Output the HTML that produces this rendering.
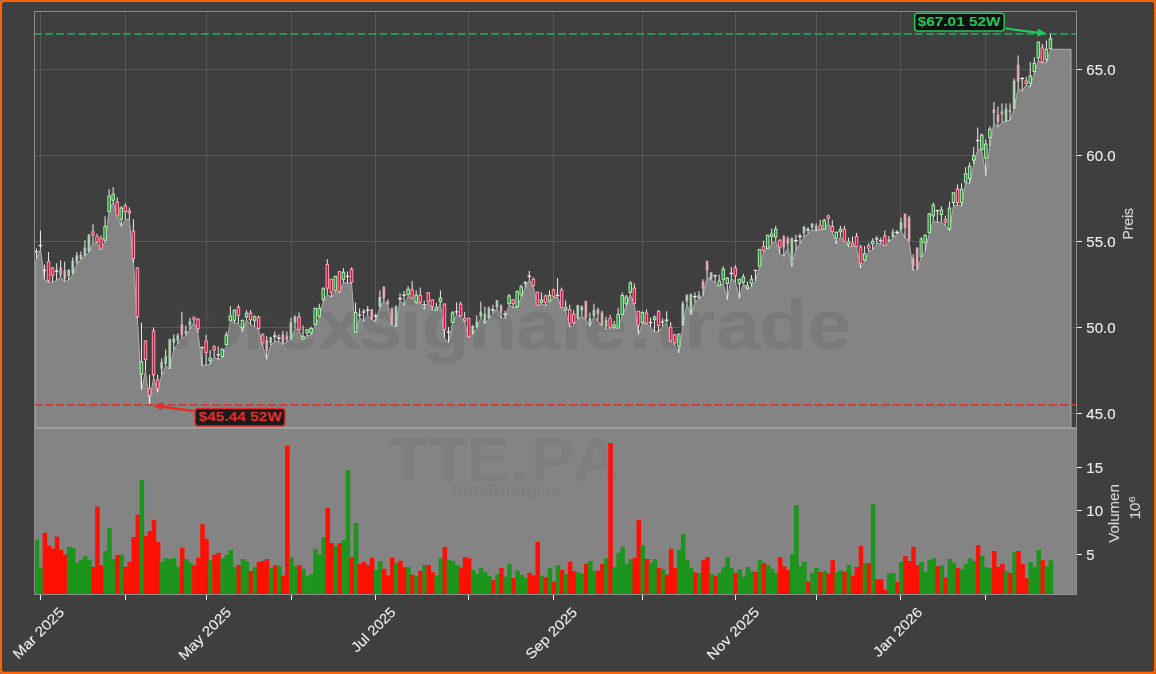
<!DOCTYPE html><html><head><meta charset="utf-8"><title>TTE.PA</title>
<style>html,body{margin:0;padding:0;background:#404040;overflow:hidden}svg{display:block}text{font-family:"Liberation Sans",sans-serif}</style></head><body>
<svg width="1156" height="674" viewBox="0 0 1156 674"><g opacity="0.999">
<rect x="0" y="0" width="1156" height="674" fill="#70757a"/>
<rect x="0" y="0" width="1156" height="674" rx="3.2" ry="3.2" fill="#ff6405"/>
<rect x="2" y="2" width="1152" height="669.8" rx="2.2" ry="2.2" fill="#404040"/>
<g stroke="#585858" stroke-width="1" shape-rendering="crispEdges">
<line x1="34.5" y1="69.2" x2="1076.5" y2="69.2"/>
<line x1="34.5" y1="155.2" x2="1076.5" y2="155.2"/>
<line x1="34.5" y1="241.2" x2="1076.5" y2="241.2"/>
<line x1="34.5" y1="327.2" x2="1076.5" y2="327.2"/>
<line x1="34.5" y1="413.2" x2="1076.5" y2="413.2"/>
<line x1="40.4" y1="11.5" x2="40.4" y2="428.0"/>
<line x1="125.2" y1="11.5" x2="125.2" y2="428.0"/>
<line x1="206.5" y1="11.5" x2="206.5" y2="428.0"/>
<line x1="291.4" y1="11.5" x2="291.4" y2="428.0"/>
<line x1="375.4" y1="11.5" x2="375.4" y2="428.0"/>
<line x1="468.3" y1="11.5" x2="468.3" y2="428.0"/>
<line x1="553.5" y1="11.5" x2="553.5" y2="428.0"/>
<line x1="642.2" y1="11.5" x2="642.2" y2="428.0"/>
<line x1="735.1" y1="11.5" x2="735.1" y2="428.0"/>
<line x1="816.1" y1="11.5" x2="816.1" y2="428.0"/>
<line x1="900.4" y1="11.5" x2="900.4" y2="428.0"/>
<line x1="985.2" y1="11.5" x2="985.2" y2="428.0"/>
</g>
<polygon points="35.8,428.0 35.8,260.6 36.4,258.6 40.5,249.1 44.5,279.4 48.5,282.3 52.6,282.3 56.6,280.5 60.7,277.0 64.7,281.7 68.7,280.0 72.8,274.0 76.8,264.5 80.9,259.2 84.9,256.2 88.9,252.1 93.0,243.2 97.0,243.2 101.1,249.7 105.1,241.2 109.1,211.6 113.2,201.5 117.2,215.7 121.3,226.4 125.3,219.3 129.3,219.3 133.4,262.7 137.4,318.5 141.5,390.1 145.5,370.5 149.5,404.4 153.6,377.0 157.6,392.5 161.7,374.7 165.7,366.0 169.7,369.0 173.8,349.4 177.8,344.0 181.9,338.1 185.9,335.7 189.9,329.2 194.0,322.6 198.0,332.7 202.1,365.4 206.1,365.4 210.1,364.2 214.2,357.1 218.2,359.5 222.3,357.7 226.3,345.2 230.3,320.9 234.4,323.2 238.4,323.2 242.5,331.6 246.5,319.7 250.5,324.5 254.6,326.8 258.6,329.8 262.7,345.7 266.7,359.4 270.7,345.1 274.8,341.6 278.8,341.6 282.9,344.5 286.9,342.1 290.9,339.8 295.0,328.5 299.0,330.3 303.1,339.2 307.1,336.2 311.1,334.4 315.2,325.6 319.2,317.3 323.3,301.3 327.3,294.8 331.3,297.1 335.4,291.8 339.4,293.0 343.5,282.3 347.5,283.3 351.5,283.3 355.6,332.8 359.6,317.3 363.7,321.5 367.7,315.0 371.7,319.7 375.8,321.3 379.8,307.6 383.9,300.5 387.9,304.7 391.9,324.9 396.0,326.6 400.0,300.5 404.1,305.3 408.1,296.4 412.1,298.7 416.2,303.3 420.2,302.9 424.3,309.4 428.3,302.5 432.3,310.0 436.4,310.4 440.4,302.9 444.5,337.9 448.5,342.7 452.5,323.1 456.6,314.8 460.6,316.6 464.7,322.5 468.7,337.3 472.7,334.4 476.8,327.8 480.8,317.7 484.9,323.7 488.9,318.9 492.9,313.6 497.0,308.9 501.0,317.8 505.1,318.4 509.1,304.8 513.1,307.7 517.2,307.5 521.2,297.1 525.3,287.6 529.3,279.8 533.3,286.4 537.4,305.6 541.4,303.6 545.5,306.0 549.5,301.8 553.5,297.6 557.6,297.6 561.6,308.0 565.7,310.7 569.7,327.3 573.7,324.4 577.8,319.6 581.8,316.1 585.9,319.6 589.9,326.5 593.9,316.3 598.0,320.8 602.0,326.1 606.1,329.7 610.1,328.5 614.1,329.3 618.2,328.2 622.2,315.5 626.3,306.1 630.3,294.2 634.3,304.3 638.4,334.4 642.4,323.7 646.5,323.7 650.5,326.7 654.5,331.5 658.6,331.5 662.6,326.7 666.7,322.6 670.7,342.1 674.7,344.9 678.8,352.8 682.8,326.1 686.9,304.3 690.9,314.7 694.9,302.3 699.0,298.7 703.0,295.4 707.1,276.7 711.1,279.7 715.1,282.9 719.2,286.1 723.2,283.3 727.3,299.5 731.3,277.8 735.3,282.1 739.4,298.3 743.4,283.3 747.5,289.7 751.5,286.9 755.5,281.0 759.6,266.7 763.6,251.3 767.7,248.9 771.7,243.9 775.7,240.6 779.8,253.9 783.8,256.3 787.9,247.7 791.9,266.5 795.9,249.2 800.0,243.6 804.0,236.8 808.1,233.5 812.1,230.2 816.1,230.9 820.2,229.7 824.2,229.3 828.3,222.8 832.3,232.5 836.3,243.9 840.4,236.8 844.4,241.6 848.5,246.8 852.5,246.0 856.5,246.8 860.6,268.2 864.6,261.0 868.7,251.5 872.7,249.8 876.7,243.4 880.8,243.4 884.8,245.8 888.9,241.9 892.9,237.7 896.9,234.2 901.0,230.4 905.0,238.0 909.1,241.1 913.1,270.4 917.1,270.0 921.2,257.7 925.2,251.0 929.3,233.2 933.3,220.9 937.3,222.5 941.4,222.1 945.4,225.6 949.5,230.9 953.5,205.4 957.5,205.1 961.6,206.3 965.6,182.9 969.7,183.6 973.7,164.3 977.7,149.7 981.8,150.4 985.8,175.5 989.9,146.1 993.9,122.4 997.9,126.9 1002.0,122.4 1006.0,121.2 1010.1,120.3 1014.1,109.1 1018.1,88.0 1022.2,91.3 1026.2,84.7 1030.3,87.0 1034.3,72.9 1038.3,60.9 1042.4,63.1 1046.4,62.6 1050.5,49.3 1071.0,49.3 1071.0,428.0" fill="#858585" stroke="#b0b0b0" stroke-width="1" stroke-linejoin="round"/>
<rect x="34.5" y="428.0" width="1042.0" height="166.5" fill="#858585"/>
<g fill="#505050" font-weight="bold">
<text transform="translate(169.05,348.5) scale(1.134,1)" font-size="70.0" fill-opacity="0.17">f</text>
<text transform="translate(194.82,348.5) scale(1.134,1)" font-size="70.0" fill-opacity="0.17">o</text>
<text transform="translate(242.33,348.5) scale(1.134,1)" font-size="70.0" fill-opacity="0.17">r</text>
<text transform="translate(274.11,348.5) scale(1.134,1)" font-size="70.0" fill-opacity="0.17">e</text>
<text transform="translate(317.51,348.5) scale(1.134,1)" font-size="70.0" fill-opacity="0.17">x</text>
<text transform="translate(358.18,348.5) scale(1.134,1)" font-size="70.0" fill-opacity="0.17">s</text>
<text transform="translate(399.98,348.5) scale(1.134,1)" font-size="70.0" fill-opacity="0.17">i</text>
<text transform="translate(421.50,348.5) scale(1.134,1)" font-size="70.0" fill-opacity="0.17">g</text>
<text transform="translate(468.34,348.5) scale(1.134,1)" font-size="70.0" fill-opacity="0.17">n</text>
<text transform="translate(516.01,348.5) scale(1.134,1)" font-size="70.0" fill-opacity="0.17">a</text>
<text transform="translate(560.44,348.5) scale(1.134,1)" font-size="70.0" fill-opacity="0.17">l</text>
<text transform="translate(582.89,348.5) scale(1.134,1)" font-size="70.0" fill-opacity="0.17">e</text>
<text transform="translate(628.63,348.5) scale(1.134,1)" font-size="70.0" fill-opacity="0.17">.</text>
<text transform="translate(654.59,348.5) scale(1.134,1)" font-size="70.0" fill-opacity="0.17">t</text>
<text transform="translate(684.22,348.5) scale(1.134,1)" font-size="70.0" fill-opacity="0.17">r</text>
<text transform="translate(715.90,348.5) scale(1.134,1)" font-size="70.0" fill-opacity="0.17">a</text>
<text transform="translate(759.34,348.5) scale(1.134,1)" font-size="70.0" fill-opacity="0.17">d</text>
<text transform="translate(807.25,348.5) scale(1.134,1)" font-size="70.0" fill-opacity="0.17">e</text>
<text transform="translate(388.73,481.3) scale(1.020,1)" font-size="63.4" fill-opacity="0.10">T</text>
<text transform="translate(428.69,481.3) scale(1.020,1)" font-size="63.4" fill-opacity="0.10">T</text>
<text transform="translate(466.88,481.3) scale(1.020,1)" font-size="63.4" fill-opacity="0.10">E</text>
<text transform="translate(510.60,481.3) scale(1.020,1)" font-size="63.4" fill-opacity="0.10">.</text>
<text transform="translate(530.63,481.3) scale(1.020,1)" font-size="63.4" fill-opacity="0.10">P</text>
<text transform="translate(573.01,481.3) scale(1.020,1)" font-size="63.4" fill-opacity="0.10">A</text>
</g>
<text x="448.8" y="495.8" font-size="16.6" fill="#505050" fill-opacity="0.15" textLength="111.6" lengthAdjust="spacingAndGlyphs">TotalEnergies</text>
<rect x="34.55" y="539.6" width="4.54" height="54.9" fill="#1c961c"/>
<rect x="38.59" y="567.5" width="4.54" height="27.0" fill="#1c961c"/>
<rect x="42.63" y="532.8" width="4.54" height="61.7" fill="#ff1205"/>
<rect x="46.67" y="545.7" width="4.54" height="48.8" fill="#ff1205"/>
<rect x="50.71" y="548.6" width="4.54" height="45.9" fill="#ff1205"/>
<rect x="54.75" y="536.7" width="4.54" height="57.8" fill="#ff1205"/>
<rect x="58.79" y="549.8" width="4.54" height="44.7" fill="#ff1205"/>
<rect x="62.83" y="554.6" width="4.54" height="39.9" fill="#ff1205"/>
<rect x="66.87" y="546.9" width="4.54" height="47.6" fill="#1c961c"/>
<rect x="70.91" y="548.1" width="4.54" height="46.4" fill="#1c961c"/>
<rect x="74.95" y="562.7" width="4.54" height="31.8" fill="#1c961c"/>
<rect x="78.99" y="559.8" width="4.54" height="34.7" fill="#1c961c"/>
<rect x="83.03" y="555.9" width="4.54" height="38.6" fill="#1c961c"/>
<rect x="87.07" y="559.8" width="4.54" height="34.7" fill="#1c961c"/>
<rect x="91.11" y="566.8" width="4.54" height="27.7" fill="#ff1205"/>
<rect x="95.15" y="506.7" width="4.54" height="87.8" fill="#ff1205"/>
<rect x="99.19" y="565.1" width="4.54" height="29.4" fill="#ff1205"/>
<rect x="103.23" y="551.0" width="4.54" height="43.5" fill="#1c961c"/>
<rect x="107.27" y="527.9" width="4.54" height="66.6" fill="#1c961c"/>
<rect x="111.31" y="559.0" width="4.54" height="35.5" fill="#1c961c"/>
<rect x="115.35" y="554.9" width="4.54" height="39.6" fill="#ff1205"/>
<rect x="119.39" y="554.9" width="4.54" height="39.6" fill="#1c961c"/>
<rect x="123.43" y="566.8" width="4.54" height="27.7" fill="#ff1205"/>
<rect x="127.47" y="561.9" width="4.54" height="32.6" fill="#ff1205"/>
<rect x="131.51" y="537.1" width="4.54" height="57.4" fill="#ff1205"/>
<rect x="135.55" y="514.8" width="4.54" height="79.7" fill="#ff1205"/>
<rect x="139.59" y="480.0" width="4.54" height="114.5" fill="#1c961c"/>
<rect x="143.63" y="535.9" width="4.54" height="58.6" fill="#ff1205"/>
<rect x="147.67" y="531.1" width="4.54" height="63.4" fill="#ff1205"/>
<rect x="151.71" y="520.1" width="4.54" height="74.4" fill="#ff1205"/>
<rect x="155.75" y="542.0" width="4.54" height="52.5" fill="#ff1205"/>
<rect x="159.79" y="561.9" width="4.54" height="32.6" fill="#1c961c"/>
<rect x="163.83" y="558.1" width="4.54" height="36.4" fill="#1c961c"/>
<rect x="167.87" y="559.0" width="4.54" height="35.5" fill="#1c961c"/>
<rect x="171.91" y="558.1" width="4.54" height="36.4" fill="#1c961c"/>
<rect x="175.95" y="566.8" width="4.54" height="27.7" fill="#1c961c"/>
<rect x="179.99" y="547.6" width="4.54" height="46.9" fill="#ff1205"/>
<rect x="184.03" y="559.0" width="4.54" height="35.5" fill="#1c961c"/>
<rect x="188.07" y="562.7" width="4.54" height="31.8" fill="#1c961c"/>
<rect x="192.11" y="565.6" width="4.54" height="28.9" fill="#ff1205"/>
<rect x="196.15" y="557.8" width="4.54" height="36.7" fill="#ff1205"/>
<rect x="200.19" y="524.3" width="4.54" height="70.2" fill="#ff1205"/>
<rect x="204.23" y="539.1" width="4.54" height="55.4" fill="#ff1205"/>
<rect x="208.27" y="560.2" width="4.54" height="34.3" fill="#1c961c"/>
<rect x="212.31" y="554.9" width="4.54" height="39.6" fill="#ff1205"/>
<rect x="216.35" y="552.9" width="4.54" height="41.6" fill="#ff1205"/>
<rect x="220.39" y="558.3" width="4.54" height="36.2" fill="#1c961c"/>
<rect x="224.43" y="554.9" width="4.54" height="39.6" fill="#1c961c"/>
<rect x="228.47" y="550.0" width="4.54" height="44.5" fill="#1c961c"/>
<rect x="232.51" y="567.1" width="4.54" height="27.4" fill="#1c961c"/>
<rect x="236.55" y="565.1" width="4.54" height="29.4" fill="#ff1205"/>
<rect x="240.59" y="559.0" width="4.54" height="35.5" fill="#1c961c"/>
<rect x="244.63" y="561.0" width="4.54" height="33.5" fill="#1c961c"/>
<rect x="248.67" y="571.2" width="4.54" height="23.3" fill="#ff1205"/>
<rect x="252.71" y="567.1" width="4.54" height="27.4" fill="#1c961c"/>
<rect x="256.75" y="561.9" width="4.54" height="32.6" fill="#ff1205"/>
<rect x="260.79" y="561.0" width="4.54" height="33.5" fill="#ff1205"/>
<rect x="264.83" y="559.0" width="4.54" height="35.5" fill="#ff1205"/>
<rect x="268.87" y="568.0" width="4.54" height="26.5" fill="#1c961c"/>
<rect x="272.91" y="565.1" width="4.54" height="29.4" fill="#ff1205"/>
<rect x="276.95" y="566.3" width="4.54" height="28.2" fill="#1c961c"/>
<rect x="280.99" y="575.6" width="4.54" height="18.9" fill="#ff1205"/>
<rect x="285.03" y="445.9" width="4.54" height="148.6" fill="#ff1205"/>
<rect x="289.07" y="557.1" width="4.54" height="37.4" fill="#1c961c"/>
<rect x="293.11" y="566.3" width="4.54" height="28.2" fill="#1c961c"/>
<rect x="297.15" y="565.1" width="4.54" height="29.4" fill="#ff1205"/>
<rect x="301.19" y="568.8" width="4.54" height="25.7" fill="#1c961c"/>
<rect x="305.23" y="576.1" width="4.54" height="18.4" fill="#1c961c"/>
<rect x="309.27" y="574.1" width="4.54" height="20.4" fill="#1c961c"/>
<rect x="313.31" y="548.8" width="4.54" height="45.7" fill="#1c961c"/>
<rect x="317.35" y="554.6" width="4.54" height="39.9" fill="#1c961c"/>
<rect x="321.39" y="537.1" width="4.54" height="57.4" fill="#1c961c"/>
<rect x="325.43" y="508.0" width="4.54" height="86.5" fill="#ff1205"/>
<rect x="329.47" y="543.2" width="4.54" height="51.3" fill="#ff1205"/>
<rect x="333.51" y="546.1" width="4.54" height="48.4" fill="#1c961c"/>
<rect x="337.55" y="543.2" width="4.54" height="51.3" fill="#ff1205"/>
<rect x="341.59" y="540.1" width="4.54" height="54.4" fill="#1c961c"/>
<rect x="345.63" y="470.3" width="4.54" height="124.2" fill="#1c961c"/>
<rect x="349.67" y="557.1" width="4.54" height="37.4" fill="#ff1205"/>
<rect x="353.71" y="523.0" width="4.54" height="71.5" fill="#1c961c"/>
<rect x="357.75" y="563.9" width="4.54" height="30.6" fill="#ff1205"/>
<rect x="361.79" y="561.9" width="4.54" height="32.6" fill="#ff1205"/>
<rect x="365.83" y="565.1" width="4.54" height="29.4" fill="#ff1205"/>
<rect x="369.87" y="557.8" width="4.54" height="36.7" fill="#ff1205"/>
<rect x="373.91" y="570.0" width="4.54" height="24.5" fill="#1c961c"/>
<rect x="377.95" y="561.0" width="4.54" height="33.5" fill="#1c961c"/>
<rect x="381.99" y="568.8" width="4.54" height="25.7" fill="#ff1205"/>
<rect x="386.03" y="575.6" width="4.54" height="18.9" fill="#ff1205"/>
<rect x="390.07" y="557.8" width="4.54" height="36.7" fill="#ff1205"/>
<rect x="394.11" y="562.7" width="4.54" height="31.8" fill="#1c961c"/>
<rect x="398.15" y="560.7" width="4.54" height="33.8" fill="#ff1205"/>
<rect x="402.19" y="567.1" width="4.54" height="27.4" fill="#ff1205"/>
<rect x="406.23" y="567.1" width="4.54" height="27.4" fill="#1c961c"/>
<rect x="410.27" y="574.8" width="4.54" height="19.7" fill="#ff1205"/>
<rect x="414.31" y="576.1" width="4.54" height="18.4" fill="#1c961c"/>
<rect x="418.35" y="570.7" width="4.54" height="23.8" fill="#ff1205"/>
<rect x="422.39" y="565.1" width="4.54" height="29.4" fill="#1c961c"/>
<rect x="426.43" y="565.1" width="4.54" height="29.4" fill="#ff1205"/>
<rect x="430.47" y="572.4" width="4.54" height="22.1" fill="#ff1205"/>
<rect x="434.51" y="575.3" width="4.54" height="19.2" fill="#1c961c"/>
<rect x="438.55" y="558.3" width="4.54" height="36.2" fill="#1c961c"/>
<rect x="442.59" y="546.9" width="4.54" height="47.6" fill="#ff1205"/>
<rect x="446.63" y="559.8" width="4.54" height="34.7" fill="#1c961c"/>
<rect x="450.67" y="561.0" width="4.54" height="33.5" fill="#1c961c"/>
<rect x="454.71" y="565.1" width="4.54" height="29.4" fill="#1c961c"/>
<rect x="458.75" y="567.5" width="4.54" height="27.0" fill="#ff1205"/>
<rect x="462.79" y="557.1" width="4.54" height="37.4" fill="#ff1205"/>
<rect x="466.83" y="558.3" width="4.54" height="36.2" fill="#ff1205"/>
<rect x="470.87" y="570.0" width="4.54" height="24.5" fill="#1c961c"/>
<rect x="474.91" y="573.6" width="4.54" height="20.9" fill="#1c961c"/>
<rect x="478.95" y="568.0" width="4.54" height="26.5" fill="#1c961c"/>
<rect x="482.99" y="572.4" width="4.54" height="22.1" fill="#1c961c"/>
<rect x="487.03" y="576.1" width="4.54" height="18.4" fill="#1c961c"/>
<rect x="491.07" y="580.2" width="4.54" height="14.3" fill="#ff1205"/>
<rect x="495.11" y="574.1" width="4.54" height="20.4" fill="#1c961c"/>
<rect x="499.15" y="568.0" width="4.54" height="26.5" fill="#ff1205"/>
<rect x="503.19" y="576.8" width="4.54" height="17.7" fill="#1c961c"/>
<rect x="507.23" y="563.9" width="4.54" height="30.6" fill="#1c961c"/>
<rect x="511.27" y="578.0" width="4.54" height="16.5" fill="#ff1205"/>
<rect x="515.31" y="570.7" width="4.54" height="23.8" fill="#1c961c"/>
<rect x="519.35" y="574.8" width="4.54" height="19.7" fill="#1c961c"/>
<rect x="523.39" y="578.0" width="4.54" height="16.5" fill="#1c961c"/>
<rect x="527.43" y="572.9" width="4.54" height="21.6" fill="#ff1205"/>
<rect x="531.47" y="575.3" width="4.54" height="19.2" fill="#ff1205"/>
<rect x="535.51" y="542.0" width="4.54" height="52.5" fill="#ff1205"/>
<rect x="539.55" y="575.6" width="4.54" height="18.9" fill="#1c961c"/>
<rect x="543.59" y="577.3" width="4.54" height="17.2" fill="#ff1205"/>
<rect x="547.63" y="568.0" width="4.54" height="26.5" fill="#1c961c"/>
<rect x="551.67" y="581.6" width="4.54" height="12.9" fill="#ff1205"/>
<rect x="555.71" y="565.1" width="4.54" height="29.4" fill="#1c961c"/>
<rect x="559.75" y="570.0" width="4.54" height="24.5" fill="#ff1205"/>
<rect x="563.79" y="574.1" width="4.54" height="20.4" fill="#1c961c"/>
<rect x="567.83" y="561.9" width="4.54" height="32.6" fill="#ff1205"/>
<rect x="571.87" y="571.2" width="4.54" height="23.3" fill="#ff1205"/>
<rect x="575.91" y="572.4" width="4.54" height="22.1" fill="#1c961c"/>
<rect x="579.95" y="573.6" width="4.54" height="20.9" fill="#1c961c"/>
<rect x="583.99" y="563.9" width="4.54" height="30.6" fill="#ff1205"/>
<rect x="588.03" y="561.0" width="4.54" height="33.5" fill="#1c961c"/>
<rect x="592.07" y="571.2" width="4.54" height="23.3" fill="#1c961c"/>
<rect x="596.11" y="570.7" width="4.54" height="23.8" fill="#ff1205"/>
<rect x="600.15" y="563.9" width="4.54" height="30.6" fill="#ff1205"/>
<rect x="604.19" y="558.3" width="4.54" height="36.2" fill="#1c961c"/>
<rect x="608.23" y="443.0" width="4.54" height="151.5" fill="#ff1205"/>
<rect x="612.27" y="567.1" width="4.54" height="27.4" fill="#1c961c"/>
<rect x="616.31" y="552.9" width="4.54" height="41.6" fill="#1c961c"/>
<rect x="620.35" y="546.9" width="4.54" height="47.6" fill="#1c961c"/>
<rect x="624.39" y="563.9" width="4.54" height="30.6" fill="#1c961c"/>
<rect x="628.43" y="559.0" width="4.54" height="35.5" fill="#1c961c"/>
<rect x="632.47" y="557.8" width="4.54" height="36.7" fill="#ff1205"/>
<rect x="636.51" y="520.1" width="4.54" height="74.4" fill="#ff1205"/>
<rect x="640.55" y="545.2" width="4.54" height="49.3" fill="#1c961c"/>
<rect x="644.59" y="559.0" width="4.54" height="35.5" fill="#ff1205"/>
<rect x="648.63" y="562.7" width="4.54" height="31.8" fill="#1c961c"/>
<rect x="652.67" y="559.0" width="4.54" height="35.5" fill="#1c961c"/>
<rect x="656.71" y="568.0" width="4.54" height="26.5" fill="#ff1205"/>
<rect x="660.75" y="569.2" width="4.54" height="25.3" fill="#1c961c"/>
<rect x="664.79" y="574.8" width="4.54" height="19.7" fill="#ff1205"/>
<rect x="668.83" y="548.8" width="4.54" height="45.7" fill="#ff1205"/>
<rect x="672.87" y="568.0" width="4.54" height="26.5" fill="#ff1205"/>
<rect x="676.91" y="549.8" width="4.54" height="44.7" fill="#1c961c"/>
<rect x="680.95" y="534.0" width="4.54" height="60.5" fill="#1c961c"/>
<rect x="684.99" y="560.2" width="4.54" height="34.3" fill="#1c961c"/>
<rect x="689.03" y="568.0" width="4.54" height="26.5" fill="#1c961c"/>
<rect x="693.07" y="572.4" width="4.54" height="22.1" fill="#ff1205"/>
<rect x="697.11" y="573.1" width="4.54" height="21.4" fill="#1c961c"/>
<rect x="701.15" y="560.2" width="4.54" height="34.3" fill="#ff1205"/>
<rect x="705.19" y="557.1" width="4.54" height="37.4" fill="#ff1205"/>
<rect x="709.23" y="574.1" width="4.54" height="20.4" fill="#1c961c"/>
<rect x="713.27" y="576.1" width="4.54" height="18.4" fill="#ff1205"/>
<rect x="717.31" y="572.9" width="4.54" height="21.6" fill="#1c961c"/>
<rect x="721.35" y="567.1" width="4.54" height="27.4" fill="#1c961c"/>
<rect x="725.39" y="557.1" width="4.54" height="37.4" fill="#1c961c"/>
<rect x="729.43" y="568.0" width="4.54" height="26.5" fill="#1c961c"/>
<rect x="733.47" y="572.9" width="4.54" height="21.6" fill="#ff1205"/>
<rect x="737.51" y="569.2" width="4.54" height="25.3" fill="#1c961c"/>
<rect x="741.55" y="576.8" width="4.54" height="17.7" fill="#1c961c"/>
<rect x="745.59" y="567.1" width="4.54" height="27.4" fill="#1c961c"/>
<rect x="749.63" y="571.2" width="4.54" height="23.3" fill="#1c961c"/>
<rect x="753.67" y="571.9" width="4.54" height="22.6" fill="#ff1205"/>
<rect x="757.71" y="560.2" width="4.54" height="34.3" fill="#1c961c"/>
<rect x="761.75" y="563.2" width="4.54" height="31.3" fill="#ff1205"/>
<rect x="765.79" y="565.1" width="4.54" height="29.4" fill="#1c961c"/>
<rect x="769.83" y="568.8" width="4.54" height="25.7" fill="#1c961c"/>
<rect x="773.87" y="572.9" width="4.54" height="21.6" fill="#1c961c"/>
<rect x="777.91" y="557.1" width="4.54" height="37.4" fill="#ff1205"/>
<rect x="781.95" y="566.3" width="4.54" height="28.2" fill="#ff1205"/>
<rect x="785.99" y="570.0" width="4.54" height="24.5" fill="#ff1205"/>
<rect x="790.03" y="554.2" width="4.54" height="40.3" fill="#1c961c"/>
<rect x="794.07" y="505.0" width="4.54" height="89.5" fill="#1c961c"/>
<rect x="798.11" y="566.3" width="4.54" height="28.2" fill="#1c961c"/>
<rect x="802.15" y="561.9" width="4.54" height="32.6" fill="#1c961c"/>
<rect x="806.19" y="581.6" width="4.54" height="12.9" fill="#ff1205"/>
<rect x="810.23" y="572.9" width="4.54" height="21.6" fill="#1c961c"/>
<rect x="814.27" y="568.0" width="4.54" height="26.5" fill="#1c961c"/>
<rect x="818.31" y="571.9" width="4.54" height="22.6" fill="#ff1205"/>
<rect x="822.35" y="571.2" width="4.54" height="23.3" fill="#1c961c"/>
<rect x="826.39" y="573.6" width="4.54" height="20.9" fill="#ff1205"/>
<rect x="830.43" y="560.2" width="4.54" height="34.3" fill="#ff1205"/>
<rect x="834.47" y="572.4" width="4.54" height="22.1" fill="#1c961c"/>
<rect x="838.51" y="570.5" width="4.54" height="24.0" fill="#1c961c"/>
<rect x="842.55" y="571.9" width="4.54" height="22.6" fill="#ff1205"/>
<rect x="846.59" y="565.1" width="4.54" height="29.4" fill="#1c961c"/>
<rect x="850.63" y="575.6" width="4.54" height="18.9" fill="#ff1205"/>
<rect x="854.67" y="567.1" width="4.54" height="27.4" fill="#ff1205"/>
<rect x="858.71" y="546.1" width="4.54" height="48.4" fill="#ff1205"/>
<rect x="862.75" y="563.2" width="4.54" height="31.3" fill="#1c961c"/>
<rect x="866.79" y="563.2" width="4.54" height="31.3" fill="#ff1205"/>
<rect x="870.83" y="504.3" width="4.54" height="90.2" fill="#1c961c"/>
<rect x="874.87" y="579.2" width="4.54" height="15.3" fill="#ff1205"/>
<rect x="878.91" y="579.2" width="4.54" height="15.3" fill="#ff1205"/>
<rect x="882.95" y="589.9" width="4.54" height="4.6" fill="#ff1205"/>
<rect x="886.99" y="573.1" width="4.54" height="21.4" fill="#1c961c"/>
<rect x="891.03" y="573.1" width="4.54" height="21.4" fill="#1c961c"/>
<rect x="895.07" y="582.1" width="4.54" height="12.4" fill="#ff1205"/>
<rect x="899.11" y="561.9" width="4.54" height="32.6" fill="#1c961c"/>
<rect x="903.15" y="556.1" width="4.54" height="38.4" fill="#ff1205"/>
<rect x="907.19" y="561.0" width="4.54" height="33.5" fill="#ff1205"/>
<rect x="911.23" y="546.9" width="4.54" height="47.6" fill="#ff1205"/>
<rect x="915.27" y="565.1" width="4.54" height="29.4" fill="#ff1205"/>
<rect x="919.31" y="561.9" width="4.54" height="32.6" fill="#1c961c"/>
<rect x="923.35" y="571.9" width="4.54" height="22.6" fill="#1c961c"/>
<rect x="927.39" y="560.2" width="4.54" height="34.3" fill="#1c961c"/>
<rect x="931.43" y="558.3" width="4.54" height="36.2" fill="#1c961c"/>
<rect x="935.47" y="566.3" width="4.54" height="28.2" fill="#ff1205"/>
<rect x="939.51" y="565.1" width="4.54" height="29.4" fill="#1c961c"/>
<rect x="943.55" y="577.3" width="4.54" height="17.2" fill="#ff1205"/>
<rect x="947.59" y="559.0" width="4.54" height="35.5" fill="#1c961c"/>
<rect x="951.63" y="563.2" width="4.54" height="31.3" fill="#1c961c"/>
<rect x="955.67" y="568.0" width="4.54" height="26.5" fill="#ff1205"/>
<rect x="959.71" y="569.2" width="4.54" height="25.3" fill="#1c961c"/>
<rect x="963.75" y="563.9" width="4.54" height="30.6" fill="#1c961c"/>
<rect x="967.79" y="558.3" width="4.54" height="36.2" fill="#1c961c"/>
<rect x="971.83" y="561.0" width="4.54" height="33.5" fill="#1c961c"/>
<rect x="975.87" y="545.2" width="4.54" height="49.3" fill="#ff1205"/>
<rect x="979.91" y="556.1" width="4.54" height="38.4" fill="#1c961c"/>
<rect x="983.95" y="567.1" width="4.54" height="27.4" fill="#1c961c"/>
<rect x="987.99" y="568.0" width="4.54" height="26.5" fill="#1c961c"/>
<rect x="992.03" y="551.0" width="4.54" height="43.5" fill="#ff1205"/>
<rect x="996.07" y="567.1" width="4.54" height="27.4" fill="#ff1205"/>
<rect x="1000.11" y="563.9" width="4.54" height="30.6" fill="#ff1205"/>
<rect x="1004.15" y="571.2" width="4.54" height="23.3" fill="#1c961c"/>
<rect x="1008.19" y="572.9" width="4.54" height="21.6" fill="#ff1205"/>
<rect x="1012.23" y="552.2" width="4.54" height="42.3" fill="#1c961c"/>
<rect x="1016.27" y="551.0" width="4.54" height="43.5" fill="#ff1205"/>
<rect x="1020.31" y="563.9" width="4.54" height="30.6" fill="#ff1205"/>
<rect x="1024.35" y="578.0" width="4.54" height="16.5" fill="#ff1205"/>
<rect x="1028.39" y="561.9" width="4.54" height="32.6" fill="#1c961c"/>
<rect x="1032.43" y="567.1" width="4.54" height="27.4" fill="#1c961c"/>
<rect x="1036.47" y="550.0" width="4.54" height="44.5" fill="#1c961c"/>
<rect x="1040.51" y="560.2" width="4.54" height="34.3" fill="#ff1205"/>
<rect x="1044.55" y="566.3" width="4.54" height="28.2" fill="#1c961c"/>
<rect x="1048.59" y="560.2" width="4.54" height="34.3" fill="#1c961c"/>
<g stroke-linecap="butt">
<line x1="36.42" y1="248.5" x2="36.42" y2="258.6" stroke="#eeeeee" stroke-width="1"/>
<line x1="34.62" y1="251.7" x2="38.22" y2="251.7" stroke="#deeee1" stroke-width="1.3"/>
<line x1="40.46" y1="230.7" x2="40.46" y2="249.1" stroke="#eeeeee" stroke-width="1"/>
<line x1="38.66" y1="245.5" x2="42.26" y2="245.5" stroke="#deeee1" stroke-width="1.3"/>
<line x1="44.50" y1="264.5" x2="44.50" y2="279.4" stroke="#eeeeee" stroke-width="1"/>
<line x1="42.70" y1="270.5" x2="46.30" y2="270.5" stroke="#f7dce2" stroke-width="1.3"/>
<line x1="48.54" y1="252.1" x2="48.54" y2="282.3" stroke="#eeeeee" stroke-width="1"/>
<rect x="47.29" y="261.6" width="2.5" height="19.0" fill="#cc1842" fill-opacity="1.00" stroke="#ffa0b4" stroke-opacity="0.98" stroke-width="1"/>
<line x1="52.58" y1="266.9" x2="52.58" y2="282.3" stroke="#eeeeee" stroke-width="1"/>
<rect x="51.33" y="268.1" width="2.5" height="7.1" fill="#cc1842" fill-opacity="1.00" stroke="#ffa0b4" stroke-opacity="0.98" stroke-width="1"/>
<line x1="56.62" y1="263.3" x2="56.62" y2="280.5" stroke="#eeeeee" stroke-width="1"/>
<line x1="54.82" y1="271.1" x2="58.42" y2="271.1" stroke="#fcf3f5" stroke-width="1.3"/>
<line x1="60.66" y1="260.4" x2="60.66" y2="277.0" stroke="#eeeeee" stroke-width="1"/>
<rect x="59.41" y="267.5" width="2.5" height="7.1" fill="#edb0be" fill-opacity="0.80" stroke="#ffa0b4" stroke-opacity="0.18" stroke-width="1"/>
<line x1="64.70" y1="261.6" x2="64.70" y2="281.7" stroke="#eeeeee" stroke-width="1"/>
<rect x="63.45" y="270.5" width="2.5" height="8.3" fill="#edb0be" fill-opacity="0.80" stroke="#ffa0b4" stroke-opacity="0.18" stroke-width="1"/>
<line x1="68.74" y1="269.3" x2="68.74" y2="280.0" stroke="#eeeeee" stroke-width="1"/>
<rect x="67.49" y="269.9" width="2.5" height="5.9" fill="#b4d9bb" fill-opacity="0.80" stroke="#b6eeb6" stroke-opacity="0.18" stroke-width="1"/>
<line x1="72.78" y1="257.4" x2="72.78" y2="274.0" stroke="#eeeeee" stroke-width="1"/>
<rect x="71.53" y="261.0" width="2.5" height="12.5" fill="#b4d9bb" fill-opacity="0.80" stroke="#b6eeb6" stroke-opacity="0.18" stroke-width="1"/>
<line x1="76.82" y1="252.1" x2="76.82" y2="264.5" stroke="#eeeeee" stroke-width="1"/>
<rect x="75.57" y="255.6" width="2.5" height="6.5" fill="#b4d9bb" fill-opacity="0.80" stroke="#b6eeb6" stroke-opacity="0.18" stroke-width="1"/>
<line x1="80.86" y1="251.5" x2="80.86" y2="259.2" stroke="#eeeeee" stroke-width="1"/>
<rect x="79.61" y="255.0" width="2.5" height="3.6" fill="#b4d9bb" fill-opacity="0.80" stroke="#b6eeb6" stroke-opacity="0.18" stroke-width="1"/>
<line x1="84.90" y1="240.2" x2="84.90" y2="256.2" stroke="#eeeeee" stroke-width="1"/>
<rect x="83.65" y="247.9" width="2.5" height="7.7" fill="#b4d9bb" fill-opacity="0.80" stroke="#b6eeb6" stroke-opacity="0.18" stroke-width="1"/>
<line x1="88.94" y1="234.2" x2="88.94" y2="252.1" stroke="#eeeeee" stroke-width="1"/>
<rect x="87.69" y="234.8" width="2.5" height="16.6" fill="#b4d9bb" fill-opacity="0.80" stroke="#b6eeb6" stroke-opacity="0.18" stroke-width="1"/>
<line x1="92.98" y1="224.2" x2="92.98" y2="243.2" stroke="#eeeeee" stroke-width="1"/>
<rect x="91.73" y="231.9" width="2.5" height="3.0" fill="#cc1842" fill-opacity="1.00" stroke="#ffa0b4" stroke-opacity="0.98" stroke-width="1"/>
<line x1="97.02" y1="233.7" x2="97.02" y2="243.2" stroke="#eeeeee" stroke-width="1"/>
<rect x="95.77" y="236.6" width="2.5" height="5.3" fill="#cc1842" fill-opacity="1.00" stroke="#ffa0b4" stroke-opacity="0.98" stroke-width="1"/>
<line x1="101.06" y1="235.4" x2="101.06" y2="249.7" stroke="#eeeeee" stroke-width="1"/>
<rect x="99.81" y="238.4" width="2.5" height="10.7" fill="#cc1842" fill-opacity="1.00" stroke="#ffa0b4" stroke-opacity="0.98" stroke-width="1"/>
<line x1="105.10" y1="216.3" x2="105.10" y2="241.2" stroke="#eeeeee" stroke-width="1"/>
<rect x="103.85" y="226.4" width="2.5" height="13.7" fill="#239038" fill-opacity="1.00" stroke="#b6eeb6" stroke-opacity="0.98" stroke-width="1"/>
<line x1="109.14" y1="189.0" x2="109.14" y2="211.6" stroke="#eeeeee" stroke-width="1"/>
<rect x="107.89" y="196.1" width="2.5" height="15.4" fill="#239038" fill-opacity="1.00" stroke="#b6eeb6" stroke-opacity="0.98" stroke-width="1"/>
<line x1="113.18" y1="187.2" x2="113.18" y2="201.5" stroke="#eeeeee" stroke-width="1"/>
<rect x="111.93" y="194.3" width="2.5" height="5.9" fill="#239038" fill-opacity="1.00" stroke="#b6eeb6" stroke-opacity="0.98" stroke-width="1"/>
<line x1="117.22" y1="197.3" x2="117.22" y2="215.7" stroke="#eeeeee" stroke-width="1"/>
<rect x="115.97" y="202.1" width="2.5" height="13.7" fill="#cc1842" fill-opacity="1.00" stroke="#ffa0b4" stroke-opacity="0.98" stroke-width="1"/>
<line x1="121.26" y1="206.2" x2="121.26" y2="226.4" stroke="#eeeeee" stroke-width="1"/>
<rect x="120.01" y="208.0" width="2.5" height="11.3" fill="#239038" fill-opacity="1.00" stroke="#b6eeb6" stroke-opacity="0.98" stroke-width="1"/>
<line x1="125.30" y1="203.2" x2="125.30" y2="219.3" stroke="#eeeeee" stroke-width="1"/>
<rect x="124.05" y="206.2" width="2.5" height="5.3" fill="#cc1842" fill-opacity="1.00" stroke="#ffa0b4" stroke-opacity="0.98" stroke-width="1"/>
<line x1="129.34" y1="207.4" x2="129.34" y2="219.3" stroke="#eeeeee" stroke-width="1"/>
<rect x="128.09" y="211.0" width="2.5" height="1.8" fill="#cc1842" fill-opacity="1.00" stroke="#ffa0b4" stroke-opacity="0.98" stroke-width="1"/>
<line x1="133.38" y1="219.3" x2="133.38" y2="262.7" stroke="#eeeeee" stroke-width="1"/>
<rect x="132.13" y="231.1" width="2.5" height="27.5" fill="#cc1842" fill-opacity="1.00" stroke="#ffa0b4" stroke-opacity="0.98" stroke-width="1"/>
<line x1="137.42" y1="266.9" x2="137.42" y2="318.5" stroke="#eeeeee" stroke-width="1"/>
<rect x="136.17" y="268.1" width="2.5" height="48.6" fill="#cc1842" fill-opacity="1.00" stroke="#ffa0b4" stroke-opacity="0.98" stroke-width="1"/>
<line x1="141.46" y1="322.6" x2="141.46" y2="390.1" stroke="#eeeeee" stroke-width="1"/>
<rect x="140.21" y="361.8" width="2.5" height="12.3" fill="#239038" fill-opacity="1.00" stroke="#b6eeb6" stroke-opacity="0.98" stroke-width="1"/>
<line x1="145.50" y1="340.4" x2="145.50" y2="370.5" stroke="#eeeeee" stroke-width="1"/>
<rect x="144.25" y="341.0" width="2.5" height="18.4" fill="#cc1842" fill-opacity="1.00" stroke="#ffa0b4" stroke-opacity="0.98" stroke-width="1"/>
<line x1="149.54" y1="374.7" x2="149.54" y2="404.4" stroke="#eeeeee" stroke-width="1"/>
<rect x="148.29" y="388.3" width="2.5" height="7.2" fill="#cc1842" fill-opacity="1.00" stroke="#ffa0b4" stroke-opacity="0.98" stroke-width="1"/>
<line x1="153.58" y1="327.4" x2="153.58" y2="377.0" stroke="#eeeeee" stroke-width="1"/>
<rect x="152.33" y="331.0" width="2.5" height="43.7" fill="#cc1842" fill-opacity="1.00" stroke="#ffa0b4" stroke-opacity="0.98" stroke-width="1"/>
<line x1="157.62" y1="374.7" x2="157.62" y2="392.5" stroke="#eeeeee" stroke-width="1"/>
<rect x="156.37" y="380.0" width="2.5" height="8.3" fill="#cc1842" fill-opacity="1.00" stroke="#ffa0b4" stroke-opacity="0.98" stroke-width="1"/>
<line x1="161.66" y1="358.3" x2="161.66" y2="374.7" stroke="#eeeeee" stroke-width="1"/>
<rect x="160.41" y="362.4" width="2.5" height="6.3" fill="#b4d9bb" fill-opacity="0.80" stroke="#b6eeb6" stroke-opacity="0.18" stroke-width="1"/>
<line x1="165.70" y1="349.4" x2="165.70" y2="366.0" stroke="#eeeeee" stroke-width="1"/>
<rect x="164.45" y="356.5" width="2.5" height="7.1" fill="#b4d9bb" fill-opacity="0.80" stroke="#b6eeb6" stroke-opacity="0.18" stroke-width="1"/>
<line x1="169.74" y1="338.7" x2="169.74" y2="369.0" stroke="#eeeeee" stroke-width="1"/>
<rect x="168.49" y="339.3" width="2.5" height="29.1" fill="#b4d9bb" fill-opacity="0.80" stroke="#b6eeb6" stroke-opacity="0.18" stroke-width="1"/>
<line x1="173.78" y1="334.5" x2="173.78" y2="349.4" stroke="#eeeeee" stroke-width="1"/>
<rect x="172.53" y="338.7" width="2.5" height="3.6" fill="#b4d9bb" fill-opacity="0.80" stroke="#b6eeb6" stroke-opacity="0.18" stroke-width="1"/>
<line x1="177.82" y1="333.3" x2="177.82" y2="344.0" stroke="#eeeeee" stroke-width="1"/>
<rect x="176.57" y="335.7" width="2.5" height="4.7" fill="#b4d9bb" fill-opacity="0.80" stroke="#b6eeb6" stroke-opacity="0.18" stroke-width="1"/>
<line x1="181.86" y1="312.0" x2="181.86" y2="338.1" stroke="#eeeeee" stroke-width="1"/>
<rect x="180.61" y="324.4" width="2.5" height="10.7" fill="#edb0be" fill-opacity="0.80" stroke="#ffa0b4" stroke-opacity="0.18" stroke-width="1"/>
<line x1="185.90" y1="325.6" x2="185.90" y2="335.7" stroke="#eeeeee" stroke-width="1"/>
<rect x="184.65" y="331.0" width="2.5" height="2.4" fill="#b4d9bb" fill-opacity="0.80" stroke="#b6eeb6" stroke-opacity="0.18" stroke-width="1"/>
<line x1="189.94" y1="317.9" x2="189.94" y2="329.2" stroke="#eeeeee" stroke-width="1"/>
<rect x="188.69" y="321.5" width="2.5" height="3.6" fill="#b4d9bb" fill-opacity="0.80" stroke="#b6eeb6" stroke-opacity="0.18" stroke-width="1"/>
<line x1="193.98" y1="316.7" x2="193.98" y2="322.6" stroke="#eeeeee" stroke-width="1"/>
<rect x="192.73" y="317.3" width="2.5" height="2.4" fill="#d64567" fill-opacity="0.94" stroke="#ffa0b4" stroke-opacity="0.74" stroke-width="1"/>
<line x1="198.02" y1="318.5" x2="198.02" y2="332.7" stroke="#eeeeee" stroke-width="1"/>
<rect x="196.77" y="319.1" width="2.5" height="9.5" fill="#cc1842" fill-opacity="1.00" stroke="#ffa0b4" stroke-opacity="0.98" stroke-width="1"/>
<line x1="202.06" y1="346.4" x2="202.06" y2="365.4" stroke="#eeeeee" stroke-width="1"/>
<line x1="200.26" y1="347.7" x2="203.86" y2="347.7" stroke="#f7dce2" stroke-width="1.3"/>
<line x1="206.10" y1="335.1" x2="206.10" y2="365.4" stroke="#eeeeee" stroke-width="1"/>
<rect x="204.85" y="341.1" width="2.5" height="11.3" fill="#cc1842" fill-opacity="1.00" stroke="#ffa0b4" stroke-opacity="0.98" stroke-width="1"/>
<line x1="210.14" y1="350.0" x2="210.14" y2="364.2" stroke="#eeeeee" stroke-width="1"/>
<rect x="208.89" y="358.3" width="2.5" height="2.4" fill="#239038" fill-opacity="1.00" stroke="#b6eeb6" stroke-opacity="0.98" stroke-width="1"/>
<line x1="214.18" y1="345.2" x2="214.18" y2="357.1" stroke="#eeeeee" stroke-width="1"/>
<rect x="212.93" y="347.0" width="2.5" height="3.0" fill="#cc1842" fill-opacity="1.00" stroke="#ffa0b4" stroke-opacity="0.98" stroke-width="1"/>
<line x1="218.22" y1="346.4" x2="218.22" y2="359.5" stroke="#eeeeee" stroke-width="1"/>
<line x1="216.42" y1="354.8" x2="220.02" y2="354.8" stroke="#f7dce2" stroke-width="1.3"/>
<line x1="222.26" y1="348.2" x2="222.26" y2="357.7" stroke="#eeeeee" stroke-width="1"/>
<rect x="221.01" y="349.4" width="2.5" height="7.1" fill="#239038" fill-opacity="1.00" stroke="#b6eeb6" stroke-opacity="0.98" stroke-width="1"/>
<line x1="226.30" y1="331.6" x2="226.30" y2="345.2" stroke="#eeeeee" stroke-width="1"/>
<rect x="225.05" y="335.1" width="2.5" height="9.5" fill="#239038" fill-opacity="1.00" stroke="#b6eeb6" stroke-opacity="0.98" stroke-width="1"/>
<line x1="230.34" y1="306.0" x2="230.34" y2="320.9" stroke="#eeeeee" stroke-width="1"/>
<rect x="229.09" y="316.1" width="2.5" height="4.2" fill="#239038" fill-opacity="1.00" stroke="#b6eeb6" stroke-opacity="0.98" stroke-width="1"/>
<line x1="234.38" y1="309.6" x2="234.38" y2="323.2" stroke="#eeeeee" stroke-width="1"/>
<rect x="233.13" y="310.2" width="2.5" height="10.1" fill="#239038" fill-opacity="1.00" stroke="#b6eeb6" stroke-opacity="0.98" stroke-width="1"/>
<line x1="238.42" y1="304.8" x2="238.42" y2="323.2" stroke="#eeeeee" stroke-width="1"/>
<rect x="237.17" y="307.2" width="2.5" height="8.3" fill="#cc1842" fill-opacity="1.00" stroke="#ffa0b4" stroke-opacity="0.98" stroke-width="1"/>
<line x1="242.46" y1="319.7" x2="242.46" y2="331.6" stroke="#eeeeee" stroke-width="1"/>
<rect x="241.21" y="320.3" width="2.5" height="7.1" fill="#239038" fill-opacity="1.00" stroke="#b6eeb6" stroke-opacity="0.98" stroke-width="1"/>
<line x1="246.50" y1="310.2" x2="246.50" y2="319.7" stroke="#eeeeee" stroke-width="1"/>
<rect x="245.25" y="313.2" width="2.5" height="3.6" fill="#239038" fill-opacity="1.00" stroke="#b6eeb6" stroke-opacity="0.98" stroke-width="1"/>
<line x1="250.54" y1="310.2" x2="250.54" y2="324.5" stroke="#eeeeee" stroke-width="1"/>
<rect x="249.29" y="313.2" width="2.5" height="6.5" fill="#cc1842" fill-opacity="1.00" stroke="#ffa0b4" stroke-opacity="0.98" stroke-width="1"/>
<line x1="254.58" y1="315.5" x2="254.58" y2="326.8" stroke="#eeeeee" stroke-width="1"/>
<rect x="253.33" y="316.7" width="2.5" height="3.6" fill="#239038" fill-opacity="1.00" stroke="#b6eeb6" stroke-opacity="0.98" stroke-width="1"/>
<line x1="258.62" y1="315.5" x2="258.62" y2="329.8" stroke="#eeeeee" stroke-width="1"/>
<rect x="257.37" y="317.3" width="2.5" height="11.3" fill="#cc1842" fill-opacity="1.00" stroke="#ffa0b4" stroke-opacity="0.98" stroke-width="1"/>
<line x1="262.66" y1="333.2" x2="262.66" y2="345.7" stroke="#eeeeee" stroke-width="1"/>
<rect x="261.41" y="335.0" width="2.5" height="7.7" fill="#cc1842" fill-opacity="1.00" stroke="#ffa0b4" stroke-opacity="0.98" stroke-width="1"/>
<line x1="266.70" y1="336.2" x2="266.70" y2="359.4" stroke="#eeeeee" stroke-width="1"/>
<rect x="265.45" y="340.4" width="2.5" height="10.7" fill="#edb0be" fill-opacity="0.80" stroke="#ffa0b4" stroke-opacity="0.18" stroke-width="1"/>
<line x1="270.74" y1="336.8" x2="270.74" y2="345.1" stroke="#eeeeee" stroke-width="1"/>
<rect x="269.49" y="337.4" width="2.5" height="5.3" fill="#b4d9bb" fill-opacity="0.80" stroke="#b6eeb6" stroke-opacity="0.18" stroke-width="1"/>
<line x1="274.78" y1="331.5" x2="274.78" y2="341.6" stroke="#eeeeee" stroke-width="1"/>
<line x1="272.98" y1="336.1" x2="276.58" y2="336.1" stroke="#fcf3f5" stroke-width="1.3"/>
<line x1="278.82" y1="334.4" x2="278.82" y2="341.6" stroke="#eeeeee" stroke-width="1"/>
<line x1="277.02" y1="338.0" x2="280.62" y2="338.0" stroke="#f3f9f4" stroke-width="1.3"/>
<line x1="282.86" y1="330.9" x2="282.86" y2="344.5" stroke="#eeeeee" stroke-width="1"/>
<rect x="281.61" y="334.4" width="2.5" height="8.9" fill="#edb0be" fill-opacity="0.80" stroke="#ffa0b4" stroke-opacity="0.18" stroke-width="1"/>
<line x1="286.90" y1="331.5" x2="286.90" y2="342.1" stroke="#eeeeee" stroke-width="1"/>
<rect x="285.65" y="336.2" width="2.5" height="3.6" fill="#edb0be" fill-opacity="0.80" stroke="#ffa0b4" stroke-opacity="0.18" stroke-width="1"/>
<line x1="290.94" y1="317.8" x2="290.94" y2="339.8" stroke="#eeeeee" stroke-width="1"/>
<rect x="289.69" y="322.6" width="2.5" height="16.6" fill="#b4d9bb" fill-opacity="0.80" stroke="#b6eeb6" stroke-opacity="0.18" stroke-width="1"/>
<line x1="294.98" y1="315.4" x2="294.98" y2="328.5" stroke="#eeeeee" stroke-width="1"/>
<rect x="293.73" y="316.6" width="2.5" height="5.9" fill="#b4d9bb" fill-opacity="0.80" stroke="#b6eeb6" stroke-opacity="0.18" stroke-width="1"/>
<line x1="299.02" y1="312.5" x2="299.02" y2="330.3" stroke="#eeeeee" stroke-width="1"/>
<rect x="297.77" y="317.2" width="2.5" height="12.5" fill="#cc1842" fill-opacity="1.00" stroke="#ffa0b4" stroke-opacity="0.98" stroke-width="1"/>
<line x1="303.06" y1="325.5" x2="303.06" y2="339.2" stroke="#eeeeee" stroke-width="1"/>
<rect x="301.81" y="336.6" width="2.5" height="2.4" fill="#239038" fill-opacity="1.00" stroke="#b6eeb6" stroke-opacity="0.98" stroke-width="1"/>
<line x1="307.10" y1="329.1" x2="307.10" y2="336.2" stroke="#eeeeee" stroke-width="1"/>
<rect x="305.85" y="329.7" width="2.5" height="3.0" fill="#239038" fill-opacity="1.00" stroke="#b6eeb6" stroke-opacity="0.98" stroke-width="1"/>
<line x1="311.14" y1="326.7" x2="311.14" y2="334.4" stroke="#eeeeee" stroke-width="1"/>
<rect x="309.89" y="328.5" width="2.5" height="4.2" fill="#239038" fill-opacity="1.00" stroke="#b6eeb6" stroke-opacity="0.98" stroke-width="1"/>
<line x1="315.18" y1="307.8" x2="315.18" y2="325.6" stroke="#eeeeee" stroke-width="1"/>
<rect x="313.93" y="308.4" width="2.5" height="16.0" fill="#239038" fill-opacity="1.00" stroke="#b6eeb6" stroke-opacity="0.98" stroke-width="1"/>
<line x1="319.22" y1="303.7" x2="319.22" y2="317.3" stroke="#eeeeee" stroke-width="1"/>
<rect x="317.97" y="308.4" width="2.5" height="7.7" fill="#239038" fill-opacity="1.00" stroke="#b6eeb6" stroke-opacity="0.98" stroke-width="1"/>
<line x1="323.26" y1="287.1" x2="323.26" y2="301.3" stroke="#eeeeee" stroke-width="1"/>
<rect x="322.01" y="288.8" width="2.5" height="10.7" fill="#239038" fill-opacity="1.00" stroke="#b6eeb6" stroke-opacity="0.98" stroke-width="1"/>
<line x1="327.30" y1="259.2" x2="327.30" y2="294.8" stroke="#eeeeee" stroke-width="1"/>
<rect x="326.05" y="264.5" width="2.5" height="23.7" fill="#cc1842" fill-opacity="1.00" stroke="#ffa0b4" stroke-opacity="0.98" stroke-width="1"/>
<line x1="331.34" y1="278.7" x2="331.34" y2="297.1" stroke="#eeeeee" stroke-width="1"/>
<rect x="330.09" y="279.3" width="2.5" height="13.1" fill="#cc1842" fill-opacity="1.00" stroke="#ffa0b4" stroke-opacity="0.98" stroke-width="1"/>
<line x1="335.38" y1="275.8" x2="335.38" y2="291.8" stroke="#eeeeee" stroke-width="1"/>
<rect x="334.13" y="276.4" width="2.5" height="14.2" fill="#239038" fill-opacity="1.00" stroke="#b6eeb6" stroke-opacity="0.98" stroke-width="1"/>
<line x1="339.42" y1="271.0" x2="339.42" y2="293.0" stroke="#eeeeee" stroke-width="1"/>
<rect x="338.17" y="271.6" width="2.5" height="19.6" fill="#cc1842" fill-opacity="1.00" stroke="#ffa0b4" stroke-opacity="0.98" stroke-width="1"/>
<line x1="343.46" y1="268.1" x2="343.46" y2="282.3" stroke="#eeeeee" stroke-width="1"/>
<rect x="342.21" y="272.2" width="2.5" height="7.1" fill="#239038" fill-opacity="1.00" stroke="#b6eeb6" stroke-opacity="0.98" stroke-width="1"/>
<line x1="347.50" y1="271.6" x2="347.50" y2="283.3" stroke="#eeeeee" stroke-width="1"/>
<line x1="345.70" y1="276.4" x2="349.30" y2="276.4" stroke="#deeee1" stroke-width="1.3"/>
<line x1="351.54" y1="267.5" x2="351.54" y2="283.3" stroke="#eeeeee" stroke-width="1"/>
<rect x="350.29" y="269.2" width="2.5" height="13.1" fill="#cc1842" fill-opacity="1.00" stroke="#ffa0b4" stroke-opacity="0.98" stroke-width="1"/>
<line x1="355.58" y1="302.5" x2="355.58" y2="332.8" stroke="#eeeeee" stroke-width="1"/>
<rect x="354.33" y="312.6" width="2.5" height="19.6" fill="#239038" fill-opacity="1.00" stroke="#b6eeb6" stroke-opacity="0.98" stroke-width="1"/>
<line x1="359.62" y1="308.4" x2="359.62" y2="317.3" stroke="#eeeeee" stroke-width="1"/>
<line x1="357.82" y1="315.0" x2="361.42" y2="315.0" stroke="#f7dce2" stroke-width="1.3"/>
<line x1="363.66" y1="309.0" x2="363.66" y2="321.5" stroke="#eeeeee" stroke-width="1"/>
<line x1="361.86" y1="312.0" x2="365.46" y2="312.0" stroke="#f7dce2" stroke-width="1.3"/>
<line x1="367.70" y1="306.1" x2="367.70" y2="315.0" stroke="#eeeeee" stroke-width="1"/>
<line x1="365.90" y1="310.2" x2="369.50" y2="310.2" stroke="#faebef" stroke-width="1.3"/>
<line x1="371.74" y1="309.0" x2="371.74" y2="319.7" stroke="#eeeeee" stroke-width="1"/>
<rect x="370.49" y="309.6" width="2.5" height="9.5" fill="#edb0be" fill-opacity="0.80" stroke="#ffa0b4" stroke-opacity="0.18" stroke-width="1"/>
<line x1="375.78" y1="313.6" x2="375.78" y2="321.3" stroke="#eeeeee" stroke-width="1"/>
<line x1="373.98" y1="316.0" x2="377.58" y2="316.0" stroke="#f3f9f4" stroke-width="1.3"/>
<line x1="379.82" y1="290.4" x2="379.82" y2="307.6" stroke="#eeeeee" stroke-width="1"/>
<rect x="378.57" y="297.0" width="2.5" height="9.5" fill="#b4d9bb" fill-opacity="0.80" stroke="#b6eeb6" stroke-opacity="0.18" stroke-width="1"/>
<line x1="383.86" y1="286.3" x2="383.86" y2="300.5" stroke="#eeeeee" stroke-width="1"/>
<rect x="382.61" y="286.9" width="2.5" height="11.3" fill="#edb0be" fill-opacity="0.80" stroke="#ffa0b4" stroke-opacity="0.18" stroke-width="1"/>
<line x1="387.90" y1="299.3" x2="387.90" y2="304.7" stroke="#eeeeee" stroke-width="1"/>
<rect x="386.65" y="301.7" width="2.5" height="1.8" fill="#edb0be" fill-opacity="0.80" stroke="#ffa0b4" stroke-opacity="0.18" stroke-width="1"/>
<line x1="391.94" y1="307.6" x2="391.94" y2="324.9" stroke="#eeeeee" stroke-width="1"/>
<rect x="390.69" y="308.2" width="2.5" height="16.0" fill="#edb0be" fill-opacity="0.80" stroke="#ffa0b4" stroke-opacity="0.18" stroke-width="1"/>
<line x1="395.98" y1="305.3" x2="395.98" y2="326.6" stroke="#eeeeee" stroke-width="1"/>
<rect x="394.73" y="306.5" width="2.5" height="19.6" fill="#b4d9bb" fill-opacity="0.80" stroke="#b6eeb6" stroke-opacity="0.18" stroke-width="1"/>
<line x1="400.02" y1="293.4" x2="400.02" y2="300.5" stroke="#eeeeee" stroke-width="1"/>
<line x1="398.22" y1="298.7" x2="401.82" y2="298.7" stroke="#fcf3f5" stroke-width="1.3"/>
<line x1="404.06" y1="291.0" x2="404.06" y2="305.3" stroke="#eeeeee" stroke-width="1"/>
<line x1="402.26" y1="295.2" x2="405.86" y2="295.2" stroke="#f7dce2" stroke-width="1.3"/>
<line x1="408.10" y1="286.3" x2="408.10" y2="296.4" stroke="#eeeeee" stroke-width="1"/>
<rect x="406.85" y="289.2" width="2.5" height="5.3" fill="#239038" fill-opacity="1.00" stroke="#b6eeb6" stroke-opacity="0.98" stroke-width="1"/>
<line x1="412.14" y1="280.9" x2="412.14" y2="298.7" stroke="#eeeeee" stroke-width="1"/>
<rect x="410.89" y="289.8" width="2.5" height="8.3" fill="#cc1842" fill-opacity="1.00" stroke="#ffa0b4" stroke-opacity="0.98" stroke-width="1"/>
<line x1="416.18" y1="290.4" x2="416.18" y2="303.3" stroke="#eeeeee" stroke-width="1"/>
<rect x="414.93" y="295.2" width="2.5" height="7.1" fill="#239038" fill-opacity="1.00" stroke="#b6eeb6" stroke-opacity="0.98" stroke-width="1"/>
<line x1="420.22" y1="287.5" x2="420.22" y2="302.9" stroke="#eeeeee" stroke-width="1"/>
<rect x="418.97" y="295.2" width="2.5" height="7.1" fill="#cc1842" fill-opacity="1.00" stroke="#ffa0b4" stroke-opacity="0.98" stroke-width="1"/>
<line x1="424.26" y1="300.5" x2="424.26" y2="309.4" stroke="#eeeeee" stroke-width="1"/>
<line x1="422.46" y1="304.7" x2="426.06" y2="304.7" stroke="#deeee1" stroke-width="1.3"/>
<line x1="428.30" y1="292.2" x2="428.30" y2="302.5" stroke="#eeeeee" stroke-width="1"/>
<rect x="427.05" y="292.8" width="2.5" height="8.9" fill="#cc1842" fill-opacity="1.00" stroke="#ffa0b4" stroke-opacity="0.98" stroke-width="1"/>
<line x1="432.34" y1="299.3" x2="432.34" y2="310.0" stroke="#eeeeee" stroke-width="1"/>
<rect x="431.09" y="299.9" width="2.5" height="6.5" fill="#cc1842" fill-opacity="1.00" stroke="#ffa0b4" stroke-opacity="0.98" stroke-width="1"/>
<line x1="436.38" y1="302.9" x2="436.38" y2="310.4" stroke="#eeeeee" stroke-width="1"/>
<rect x="435.13" y="307.6" width="2.5" height="2.4" fill="#239038" fill-opacity="1.00" stroke="#b6eeb6" stroke-opacity="0.98" stroke-width="1"/>
<line x1="440.42" y1="290.4" x2="440.42" y2="302.9" stroke="#eeeeee" stroke-width="1"/>
<rect x="439.17" y="298.2" width="2.5" height="3.6" fill="#239038" fill-opacity="1.00" stroke="#b6eeb6" stroke-opacity="0.98" stroke-width="1"/>
<line x1="444.46" y1="303.5" x2="444.46" y2="337.9" stroke="#eeeeee" stroke-width="1"/>
<rect x="443.21" y="304.1" width="2.5" height="25.5" fill="#cc1842" fill-opacity="1.00" stroke="#ffa0b4" stroke-opacity="0.98" stroke-width="1"/>
<line x1="448.50" y1="327.2" x2="448.50" y2="342.7" stroke="#eeeeee" stroke-width="1"/>
<line x1="446.70" y1="332.0" x2="450.30" y2="332.0" stroke="#deeee1" stroke-width="1.3"/>
<line x1="452.54" y1="311.2" x2="452.54" y2="323.1" stroke="#eeeeee" stroke-width="1"/>
<rect x="451.29" y="313.0" width="2.5" height="9.5" fill="#239038" fill-opacity="1.00" stroke="#b6eeb6" stroke-opacity="0.98" stroke-width="1"/>
<line x1="456.58" y1="302.3" x2="456.58" y2="314.8" stroke="#eeeeee" stroke-width="1"/>
<line x1="454.78" y1="311.8" x2="458.38" y2="311.8" stroke="#deeee1" stroke-width="1.3"/>
<line x1="460.62" y1="301.7" x2="460.62" y2="316.6" stroke="#eeeeee" stroke-width="1"/>
<rect x="459.37" y="304.1" width="2.5" height="11.9" fill="#cc1842" fill-opacity="1.00" stroke="#ffa0b4" stroke-opacity="0.98" stroke-width="1"/>
<line x1="464.66" y1="311.8" x2="464.66" y2="322.5" stroke="#eeeeee" stroke-width="1"/>
<rect x="463.41" y="318.3" width="2.5" height="2.4" fill="#cc1842" fill-opacity="1.00" stroke="#ffa0b4" stroke-opacity="0.98" stroke-width="1"/>
<line x1="468.70" y1="317.7" x2="468.70" y2="337.3" stroke="#eeeeee" stroke-width="1"/>
<rect x="467.45" y="318.3" width="2.5" height="18.4" fill="#cc1842" fill-opacity="1.00" stroke="#ffa0b4" stroke-opacity="0.98" stroke-width="1"/>
<line x1="472.74" y1="324.9" x2="472.74" y2="334.4" stroke="#eeeeee" stroke-width="1"/>
<rect x="471.49" y="326.1" width="2.5" height="7.7" fill="#b4d9bb" fill-opacity="0.80" stroke="#b6eeb6" stroke-opacity="0.18" stroke-width="1"/>
<line x1="476.78" y1="315.4" x2="476.78" y2="327.8" stroke="#eeeeee" stroke-width="1"/>
<rect x="475.53" y="321.9" width="2.5" height="5.3" fill="#b4d9bb" fill-opacity="0.80" stroke="#b6eeb6" stroke-opacity="0.18" stroke-width="1"/>
<line x1="480.82" y1="301.7" x2="480.82" y2="317.7" stroke="#eeeeee" stroke-width="1"/>
<rect x="479.57" y="311.8" width="2.5" height="4.7" fill="#b4d9bb" fill-opacity="0.80" stroke="#b6eeb6" stroke-opacity="0.18" stroke-width="1"/>
<line x1="484.86" y1="306.5" x2="484.86" y2="323.7" stroke="#eeeeee" stroke-width="1"/>
<rect x="483.61" y="314.2" width="2.5" height="8.9" fill="#b4d9bb" fill-opacity="0.80" stroke="#b6eeb6" stroke-opacity="0.18" stroke-width="1"/>
<line x1="488.90" y1="306.5" x2="488.90" y2="318.9" stroke="#eeeeee" stroke-width="1"/>
<rect x="487.65" y="308.2" width="2.5" height="10.1" fill="#b4d9bb" fill-opacity="0.80" stroke="#b6eeb6" stroke-opacity="0.18" stroke-width="1"/>
<line x1="492.94" y1="304.7" x2="492.94" y2="313.6" stroke="#eeeeee" stroke-width="1"/>
<line x1="491.14" y1="310.0" x2="494.74" y2="310.0" stroke="#fcf3f5" stroke-width="1.3"/>
<line x1="496.98" y1="300.0" x2="496.98" y2="308.9" stroke="#eeeeee" stroke-width="1"/>
<rect x="495.73" y="300.6" width="2.5" height="6.5" fill="#b4d9bb" fill-opacity="0.80" stroke="#b6eeb6" stroke-opacity="0.18" stroke-width="1"/>
<line x1="501.02" y1="304.2" x2="501.02" y2="317.8" stroke="#eeeeee" stroke-width="1"/>
<rect x="499.77" y="306.0" width="2.5" height="6.5" fill="#edb0be" fill-opacity="0.80" stroke="#ffa0b4" stroke-opacity="0.18" stroke-width="1"/>
<line x1="505.06" y1="310.7" x2="505.06" y2="318.4" stroke="#eeeeee" stroke-width="1"/>
<line x1="503.26" y1="314.3" x2="506.86" y2="314.3" stroke="#eff7f1" stroke-width="1.3"/>
<line x1="509.10" y1="294.1" x2="509.10" y2="304.8" stroke="#eeeeee" stroke-width="1"/>
<rect x="507.85" y="295.9" width="2.5" height="7.7" fill="#239038" fill-opacity="1.00" stroke="#b6eeb6" stroke-opacity="0.98" stroke-width="1"/>
<line x1="513.14" y1="298.8" x2="513.14" y2="307.7" stroke="#eeeeee" stroke-width="1"/>
<rect x="511.89" y="300.0" width="2.5" height="3.6" fill="#cc1842" fill-opacity="1.00" stroke="#ffa0b4" stroke-opacity="0.98" stroke-width="1"/>
<line x1="517.18" y1="290.5" x2="517.18" y2="307.5" stroke="#eeeeee" stroke-width="1"/>
<rect x="515.93" y="291.7" width="2.5" height="14.8" fill="#239038" fill-opacity="1.00" stroke="#b6eeb6" stroke-opacity="0.98" stroke-width="1"/>
<line x1="521.22" y1="284.6" x2="521.22" y2="297.1" stroke="#eeeeee" stroke-width="1"/>
<rect x="519.97" y="287.0" width="2.5" height="7.7" fill="#239038" fill-opacity="1.00" stroke="#b6eeb6" stroke-opacity="0.98" stroke-width="1"/>
<line x1="525.26" y1="281.0" x2="525.26" y2="287.6" stroke="#eeeeee" stroke-width="1"/>
<line x1="523.46" y1="282.8" x2="527.06" y2="282.8" stroke="#deeee1" stroke-width="1.3"/>
<line x1="529.30" y1="270.9" x2="529.30" y2="279.8" stroke="#eeeeee" stroke-width="1"/>
<line x1="527.50" y1="276.3" x2="531.10" y2="276.3" stroke="#f7dce2" stroke-width="1.3"/>
<line x1="533.34" y1="277.5" x2="533.34" y2="286.4" stroke="#eeeeee" stroke-width="1"/>
<rect x="532.09" y="279.2" width="2.5" height="6.5" fill="#cc1842" fill-opacity="1.00" stroke="#ffa0b4" stroke-opacity="0.98" stroke-width="1"/>
<line x1="537.38" y1="291.7" x2="537.38" y2="305.6" stroke="#eeeeee" stroke-width="1"/>
<rect x="536.13" y="292.3" width="2.5" height="13.1" fill="#cc1842" fill-opacity="1.00" stroke="#ffa0b4" stroke-opacity="0.98" stroke-width="1"/>
<line x1="541.42" y1="292.3" x2="541.42" y2="303.6" stroke="#eeeeee" stroke-width="1"/>
<rect x="540.17" y="300.0" width="2.5" height="2.4" fill="#239038" fill-opacity="1.00" stroke="#b6eeb6" stroke-opacity="0.98" stroke-width="1"/>
<line x1="545.46" y1="294.7" x2="545.46" y2="306.0" stroke="#eeeeee" stroke-width="1"/>
<rect x="544.21" y="295.9" width="2.5" height="6.5" fill="#cc1842" fill-opacity="1.00" stroke="#ffa0b4" stroke-opacity="0.98" stroke-width="1"/>
<line x1="549.50" y1="290.5" x2="549.50" y2="301.8" stroke="#eeeeee" stroke-width="1"/>
<rect x="548.25" y="295.3" width="2.5" height="5.9" fill="#239038" fill-opacity="1.00" stroke="#b6eeb6" stroke-opacity="0.98" stroke-width="1"/>
<line x1="553.54" y1="288.7" x2="553.54" y2="297.6" stroke="#eeeeee" stroke-width="1"/>
<rect x="552.29" y="289.9" width="2.5" height="6.5" fill="#cc1842" fill-opacity="1.00" stroke="#ffa0b4" stroke-opacity="0.98" stroke-width="1"/>
<line x1="557.58" y1="278.1" x2="557.58" y2="297.6" stroke="#eeeeee" stroke-width="1"/>
<line x1="555.78" y1="295.3" x2="559.38" y2="295.3" stroke="#deeee1" stroke-width="1.3"/>
<line x1="561.62" y1="287.6" x2="561.62" y2="308.0" stroke="#eeeeee" stroke-width="1"/>
<rect x="560.37" y="289.9" width="2.5" height="17.8" fill="#cc1842" fill-opacity="1.00" stroke="#ffa0b4" stroke-opacity="0.98" stroke-width="1"/>
<line x1="565.66" y1="300.6" x2="565.66" y2="310.7" stroke="#eeeeee" stroke-width="1"/>
<rect x="564.41" y="307.7" width="2.5" height="2.4" fill="#239038" fill-opacity="1.00" stroke="#b6eeb6" stroke-opacity="0.98" stroke-width="1"/>
<line x1="569.70" y1="304.8" x2="569.70" y2="327.3" stroke="#eeeeee" stroke-width="1"/>
<rect x="568.45" y="309.5" width="2.5" height="14.2" fill="#cc1842" fill-opacity="1.00" stroke="#ffa0b4" stroke-opacity="0.98" stroke-width="1"/>
<line x1="573.74" y1="310.1" x2="573.74" y2="324.4" stroke="#eeeeee" stroke-width="1"/>
<rect x="572.49" y="314.3" width="2.5" height="8.3" fill="#cc1842" fill-opacity="1.00" stroke="#ffa0b4" stroke-opacity="0.98" stroke-width="1"/>
<line x1="577.78" y1="304.8" x2="577.78" y2="319.6" stroke="#eeeeee" stroke-width="1"/>
<rect x="576.53" y="305.4" width="2.5" height="13.1" fill="#b4d9bb" fill-opacity="0.80" stroke="#b6eeb6" stroke-opacity="0.18" stroke-width="1"/>
<line x1="581.82" y1="305.4" x2="581.82" y2="316.1" stroke="#eeeeee" stroke-width="1"/>
<rect x="580.57" y="306.6" width="2.5" height="3.6" fill="#b4d9bb" fill-opacity="0.80" stroke="#b6eeb6" stroke-opacity="0.18" stroke-width="1"/>
<line x1="585.86" y1="300.6" x2="585.86" y2="319.6" stroke="#eeeeee" stroke-width="1"/>
<rect x="584.61" y="301.2" width="2.5" height="16.6" fill="#edb0be" fill-opacity="0.80" stroke="#ffa0b4" stroke-opacity="0.18" stroke-width="1"/>
<line x1="589.90" y1="312.5" x2="589.90" y2="326.5" stroke="#eeeeee" stroke-width="1"/>
<rect x="588.65" y="318.4" width="2.5" height="5.9" fill="#b4d9bb" fill-opacity="0.80" stroke="#b6eeb6" stroke-opacity="0.18" stroke-width="1"/>
<line x1="593.94" y1="303.6" x2="593.94" y2="316.3" stroke="#eeeeee" stroke-width="1"/>
<rect x="592.69" y="310.1" width="2.5" height="5.9" fill="#b4d9bb" fill-opacity="0.80" stroke="#b6eeb6" stroke-opacity="0.18" stroke-width="1"/>
<line x1="597.98" y1="307.7" x2="597.98" y2="320.8" stroke="#eeeeee" stroke-width="1"/>
<rect x="596.73" y="309.5" width="2.5" height="4.2" fill="#edb0be" fill-opacity="0.80" stroke="#ffa0b4" stroke-opacity="0.18" stroke-width="1"/>
<line x1="602.02" y1="310.7" x2="602.02" y2="326.1" stroke="#eeeeee" stroke-width="1"/>
<rect x="600.77" y="312.5" width="2.5" height="13.1" fill="#edb0be" fill-opacity="0.80" stroke="#ffa0b4" stroke-opacity="0.18" stroke-width="1"/>
<line x1="606.06" y1="316.6" x2="606.06" y2="329.7" stroke="#eeeeee" stroke-width="1"/>
<rect x="604.81" y="320.2" width="2.5" height="6.5" fill="#b4d9bb" fill-opacity="0.80" stroke="#b6eeb6" stroke-opacity="0.18" stroke-width="1"/>
<line x1="610.10" y1="314.9" x2="610.10" y2="328.5" stroke="#eeeeee" stroke-width="1"/>
<rect x="608.85" y="318.4" width="2.5" height="8.9" fill="#cc1842" fill-opacity="1.00" stroke="#ffa0b4" stroke-opacity="0.98" stroke-width="1"/>
<line x1="614.14" y1="320.8" x2="614.14" y2="329.3" stroke="#eeeeee" stroke-width="1"/>
<rect x="612.89" y="325.0" width="2.5" height="2.4" fill="#239038" fill-opacity="1.00" stroke="#b6eeb6" stroke-opacity="0.98" stroke-width="1"/>
<line x1="618.18" y1="307.7" x2="618.18" y2="328.2" stroke="#eeeeee" stroke-width="1"/>
<rect x="616.93" y="314.3" width="2.5" height="13.7" fill="#239038" fill-opacity="1.00" stroke="#b6eeb6" stroke-opacity="0.98" stroke-width="1"/>
<line x1="622.22" y1="292.4" x2="622.22" y2="315.5" stroke="#eeeeee" stroke-width="1"/>
<rect x="620.97" y="295.4" width="2.5" height="19.0" fill="#239038" fill-opacity="1.00" stroke="#b6eeb6" stroke-opacity="0.98" stroke-width="1"/>
<line x1="626.26" y1="294.8" x2="626.26" y2="306.1" stroke="#eeeeee" stroke-width="1"/>
<rect x="625.01" y="297.1" width="2.5" height="6.5" fill="#239038" fill-opacity="1.00" stroke="#b6eeb6" stroke-opacity="0.98" stroke-width="1"/>
<line x1="630.30" y1="281.1" x2="630.30" y2="294.2" stroke="#eeeeee" stroke-width="1"/>
<rect x="629.05" y="282.9" width="2.5" height="9.5" fill="#239038" fill-opacity="1.00" stroke="#b6eeb6" stroke-opacity="0.98" stroke-width="1"/>
<line x1="634.34" y1="283.5" x2="634.34" y2="304.3" stroke="#eeeeee" stroke-width="1"/>
<rect x="633.09" y="288.2" width="2.5" height="15.4" fill="#cc1842" fill-opacity="1.00" stroke="#ffa0b4" stroke-opacity="0.98" stroke-width="1"/>
<line x1="638.38" y1="310.7" x2="638.38" y2="334.4" stroke="#eeeeee" stroke-width="1"/>
<rect x="637.13" y="311.3" width="2.5" height="14.2" fill="#cc1842" fill-opacity="1.00" stroke="#ffa0b4" stroke-opacity="0.98" stroke-width="1"/>
<line x1="642.42" y1="311.3" x2="642.42" y2="323.7" stroke="#eeeeee" stroke-width="1"/>
<rect x="641.17" y="312.5" width="2.5" height="10.1" fill="#239038" fill-opacity="1.00" stroke="#b6eeb6" stroke-opacity="0.98" stroke-width="1"/>
<line x1="646.46" y1="309.5" x2="646.46" y2="323.7" stroke="#eeeeee" stroke-width="1"/>
<rect x="645.21" y="313.1" width="2.5" height="10.1" fill="#cc1842" fill-opacity="1.00" stroke="#ffa0b4" stroke-opacity="0.98" stroke-width="1"/>
<line x1="650.50" y1="317.8" x2="650.50" y2="326.7" stroke="#eeeeee" stroke-width="1"/>
<line x1="648.70" y1="322.6" x2="652.30" y2="322.6" stroke="#deeee1" stroke-width="1.3"/>
<line x1="654.54" y1="315.4" x2="654.54" y2="331.5" stroke="#eeeeee" stroke-width="1"/>
<rect x="653.29" y="317.2" width="2.5" height="2.4" fill="#239038" fill-opacity="1.00" stroke="#b6eeb6" stroke-opacity="0.98" stroke-width="1"/>
<line x1="658.58" y1="310.1" x2="658.58" y2="331.5" stroke="#eeeeee" stroke-width="1"/>
<rect x="657.33" y="311.3" width="2.5" height="14.2" fill="#cc1842" fill-opacity="1.00" stroke="#ffa0b4" stroke-opacity="0.98" stroke-width="1"/>
<line x1="662.62" y1="318.4" x2="662.62" y2="326.7" stroke="#eeeeee" stroke-width="1"/>
<line x1="660.82" y1="322.0" x2="664.42" y2="322.0" stroke="#deeee1" stroke-width="1.3"/>
<line x1="666.66" y1="311.3" x2="666.66" y2="322.6" stroke="#eeeeee" stroke-width="1"/>
<line x1="664.86" y1="320.2" x2="668.46" y2="320.2" stroke="#f7dce2" stroke-width="1.3"/>
<line x1="670.70" y1="322.0" x2="670.70" y2="342.1" stroke="#eeeeee" stroke-width="1"/>
<rect x="669.45" y="327.3" width="2.5" height="13.7" fill="#cc1842" fill-opacity="1.00" stroke="#ffa0b4" stroke-opacity="0.98" stroke-width="1"/>
<line x1="674.74" y1="333.8" x2="674.74" y2="344.9" stroke="#eeeeee" stroke-width="1"/>
<rect x="673.49" y="335.0" width="2.5" height="7.7" fill="#cc1842" fill-opacity="1.00" stroke="#ffa0b4" stroke-opacity="0.98" stroke-width="1"/>
<line x1="678.78" y1="333.2" x2="678.78" y2="352.8" stroke="#eeeeee" stroke-width="1"/>
<rect x="677.53" y="334.4" width="2.5" height="11.9" fill="#3b9c4e" fill-opacity="0.97" stroke="#b6eeb6" stroke-opacity="0.84" stroke-width="1"/>
<line x1="682.82" y1="301.2" x2="682.82" y2="326.1" stroke="#eeeeee" stroke-width="1"/>
<rect x="681.57" y="303.6" width="2.5" height="22.0" fill="#b4d9bb" fill-opacity="0.80" stroke="#b6eeb6" stroke-opacity="0.18" stroke-width="1"/>
<line x1="686.86" y1="294.2" x2="686.86" y2="304.3" stroke="#eeeeee" stroke-width="1"/>
<rect x="685.61" y="295.4" width="2.5" height="5.9" fill="#b4d9bb" fill-opacity="0.80" stroke="#b6eeb6" stroke-opacity="0.18" stroke-width="1"/>
<line x1="690.90" y1="293.6" x2="690.90" y2="314.7" stroke="#eeeeee" stroke-width="1"/>
<rect x="689.65" y="294.2" width="2.5" height="20.2" fill="#b4d9bb" fill-opacity="0.80" stroke="#b6eeb6" stroke-opacity="0.18" stroke-width="1"/>
<line x1="694.94" y1="292.4" x2="694.94" y2="302.3" stroke="#eeeeee" stroke-width="1"/>
<line x1="693.14" y1="296.6" x2="696.74" y2="296.6" stroke="#fcf3f5" stroke-width="1.3"/>
<line x1="698.98" y1="291.2" x2="698.98" y2="298.7" stroke="#eeeeee" stroke-width="1"/>
<rect x="697.73" y="295.4" width="2.5" height="3.0" fill="#b4d9bb" fill-opacity="0.80" stroke="#b6eeb6" stroke-opacity="0.18" stroke-width="1"/>
<line x1="703.02" y1="279.3" x2="703.02" y2="295.4" stroke="#eeeeee" stroke-width="1"/>
<rect x="701.77" y="281.7" width="2.5" height="6.5" fill="#edb0be" fill-opacity="0.80" stroke="#ffa0b4" stroke-opacity="0.18" stroke-width="1"/>
<line x1="707.06" y1="260.3" x2="707.06" y2="276.7" stroke="#eeeeee" stroke-width="1"/>
<rect x="705.81" y="261.5" width="2.5" height="8.9" fill="#edb0be" fill-opacity="0.80" stroke="#ffa0b4" stroke-opacity="0.18" stroke-width="1"/>
<line x1="711.10" y1="272.2" x2="711.10" y2="279.7" stroke="#eeeeee" stroke-width="1"/>
<rect x="709.85" y="272.8" width="2.5" height="6.5" fill="#b4d9bb" fill-opacity="0.80" stroke="#b6eeb6" stroke-opacity="0.18" stroke-width="1"/>
<line x1="715.14" y1="274.6" x2="715.14" y2="282.9" stroke="#eeeeee" stroke-width="1"/>
<line x1="713.34" y1="275.8" x2="716.94" y2="275.8" stroke="#f7dce2" stroke-width="1.3"/>
<line x1="719.18" y1="274.6" x2="719.18" y2="286.1" stroke="#eeeeee" stroke-width="1"/>
<rect x="717.93" y="281.1" width="2.5" height="4.7" fill="#239038" fill-opacity="1.00" stroke="#b6eeb6" stroke-opacity="0.98" stroke-width="1"/>
<line x1="723.22" y1="266.3" x2="723.22" y2="283.3" stroke="#eeeeee" stroke-width="1"/>
<rect x="721.97" y="269.2" width="2.5" height="10.1" fill="#239038" fill-opacity="1.00" stroke="#b6eeb6" stroke-opacity="0.98" stroke-width="1"/>
<line x1="727.26" y1="277.0" x2="727.26" y2="299.5" stroke="#eeeeee" stroke-width="1"/>
<rect x="726.01" y="278.2" width="2.5" height="5.3" fill="#239038" fill-opacity="1.00" stroke="#b6eeb6" stroke-opacity="0.98" stroke-width="1"/>
<line x1="731.30" y1="266.9" x2="731.30" y2="277.8" stroke="#eeeeee" stroke-width="1"/>
<line x1="729.50" y1="273.4" x2="733.10" y2="273.4" stroke="#deeee1" stroke-width="1.3"/>
<line x1="735.34" y1="265.1" x2="735.34" y2="282.1" stroke="#eeeeee" stroke-width="1"/>
<rect x="734.09" y="268.1" width="2.5" height="7.7" fill="#cc1842" fill-opacity="1.00" stroke="#ffa0b4" stroke-opacity="0.98" stroke-width="1"/>
<line x1="739.38" y1="278.7" x2="739.38" y2="298.3" stroke="#eeeeee" stroke-width="1"/>
<rect x="738.13" y="279.3" width="2.5" height="4.2" fill="#239038" fill-opacity="1.00" stroke="#b6eeb6" stroke-opacity="0.98" stroke-width="1"/>
<line x1="743.42" y1="274.0" x2="743.42" y2="283.3" stroke="#eeeeee" stroke-width="1"/>
<rect x="742.17" y="277.0" width="2.5" height="5.3" fill="#239038" fill-opacity="1.00" stroke="#b6eeb6" stroke-opacity="0.98" stroke-width="1"/>
<line x1="747.46" y1="281.7" x2="747.46" y2="289.7" stroke="#eeeeee" stroke-width="1"/>
<rect x="746.21" y="285.6" width="2.5" height="2.4" fill="#239038" fill-opacity="1.00" stroke="#b6eeb6" stroke-opacity="0.98" stroke-width="1"/>
<line x1="751.50" y1="275.0" x2="751.50" y2="286.9" stroke="#eeeeee" stroke-width="1"/>
<rect x="750.25" y="279.2" width="2.5" height="4.2" fill="#239038" fill-opacity="1.00" stroke="#b6eeb6" stroke-opacity="0.98" stroke-width="1"/>
<line x1="755.54" y1="269.7" x2="755.54" y2="281.0" stroke="#eeeeee" stroke-width="1"/>
<line x1="753.74" y1="270.5" x2="757.34" y2="270.5" stroke="#f7dce2" stroke-width="1.3"/>
<line x1="759.58" y1="248.9" x2="759.58" y2="266.7" stroke="#eeeeee" stroke-width="1"/>
<rect x="758.33" y="249.5" width="2.5" height="16.6" fill="#239038" fill-opacity="1.00" stroke="#b6eeb6" stroke-opacity="0.98" stroke-width="1"/>
<line x1="763.62" y1="240.6" x2="763.62" y2="251.3" stroke="#eeeeee" stroke-width="1"/>
<rect x="762.37" y="246.6" width="2.5" height="4.2" fill="#cc1842" fill-opacity="1.00" stroke="#ffa0b4" stroke-opacity="0.98" stroke-width="1"/>
<line x1="767.66" y1="234.7" x2="767.66" y2="248.9" stroke="#eeeeee" stroke-width="1"/>
<rect x="766.41" y="235.3" width="2.5" height="13.1" fill="#239038" fill-opacity="1.00" stroke="#b6eeb6" stroke-opacity="0.98" stroke-width="1"/>
<line x1="771.70" y1="228.7" x2="771.70" y2="243.9" stroke="#eeeeee" stroke-width="1"/>
<rect x="770.45" y="234.1" width="2.5" height="2.4" fill="#239038" fill-opacity="1.00" stroke="#b6eeb6" stroke-opacity="0.98" stroke-width="1"/>
<line x1="775.74" y1="225.8" x2="775.74" y2="240.6" stroke="#eeeeee" stroke-width="1"/>
<rect x="774.49" y="229.3" width="2.5" height="7.7" fill="#239038" fill-opacity="1.00" stroke="#b6eeb6" stroke-opacity="0.98" stroke-width="1"/>
<line x1="779.78" y1="238.8" x2="779.78" y2="253.9" stroke="#eeeeee" stroke-width="1"/>
<rect x="778.53" y="240.6" width="2.5" height="6.5" fill="#cc1842" fill-opacity="1.00" stroke="#ffa0b4" stroke-opacity="0.98" stroke-width="1"/>
<line x1="783.82" y1="235.3" x2="783.82" y2="256.3" stroke="#eeeeee" stroke-width="1"/>
<rect x="782.57" y="236.5" width="2.5" height="10.7" fill="#edb0be" fill-opacity="0.80" stroke="#ffa0b4" stroke-opacity="0.18" stroke-width="1"/>
<line x1="787.86" y1="236.5" x2="787.86" y2="247.7" stroke="#eeeeee" stroke-width="1"/>
<rect x="786.61" y="238.8" width="2.5" height="4.7" fill="#edb0be" fill-opacity="0.80" stroke="#ffa0b4" stroke-opacity="0.18" stroke-width="1"/>
<line x1="791.90" y1="237.6" x2="791.90" y2="266.5" stroke="#eeeeee" stroke-width="1"/>
<rect x="790.65" y="238.2" width="2.5" height="21.4" fill="#b4d9bb" fill-opacity="0.80" stroke="#b6eeb6" stroke-opacity="0.18" stroke-width="1"/>
<line x1="795.94" y1="234.7" x2="795.94" y2="249.2" stroke="#eeeeee" stroke-width="1"/>
<line x1="794.14" y1="240.6" x2="797.74" y2="240.6" stroke="#f3f9f4" stroke-width="1.3"/>
<line x1="799.98" y1="233.5" x2="799.98" y2="243.6" stroke="#eeeeee" stroke-width="1"/>
<line x1="798.18" y1="236.5" x2="801.78" y2="236.5" stroke="#f3f9f4" stroke-width="1.3"/>
<line x1="804.02" y1="225.8" x2="804.02" y2="236.8" stroke="#eeeeee" stroke-width="1"/>
<rect x="802.77" y="227.0" width="2.5" height="5.9" fill="#b4d9bb" fill-opacity="0.80" stroke="#b6eeb6" stroke-opacity="0.18" stroke-width="1"/>
<line x1="808.06" y1="227.0" x2="808.06" y2="233.5" stroke="#eeeeee" stroke-width="1"/>
<line x1="806.26" y1="229.9" x2="809.86" y2="229.9" stroke="#fcf3f5" stroke-width="1.3"/>
<line x1="812.10" y1="222.8" x2="812.10" y2="230.2" stroke="#eeeeee" stroke-width="1"/>
<rect x="810.85" y="224.0" width="2.5" height="3.0" fill="#b4d9bb" fill-opacity="0.80" stroke="#b6eeb6" stroke-opacity="0.18" stroke-width="1"/>
<line x1="816.14" y1="223.4" x2="816.14" y2="230.9" stroke="#eeeeee" stroke-width="1"/>
<rect x="814.89" y="226.4" width="2.5" height="3.6" fill="#b4d9bb" fill-opacity="0.80" stroke="#b6eeb6" stroke-opacity="0.18" stroke-width="1"/>
<line x1="820.18" y1="219.8" x2="820.18" y2="229.7" stroke="#eeeeee" stroke-width="1"/>
<rect x="818.93" y="225.8" width="2.5" height="3.6" fill="#cc1842" fill-opacity="1.00" stroke="#ffa0b4" stroke-opacity="0.98" stroke-width="1"/>
<line x1="824.22" y1="218.7" x2="824.22" y2="229.3" stroke="#eeeeee" stroke-width="1"/>
<rect x="822.97" y="220.4" width="2.5" height="8.9" fill="#239038" fill-opacity="1.00" stroke="#b6eeb6" stroke-opacity="0.98" stroke-width="1"/>
<line x1="828.26" y1="214.5" x2="828.26" y2="222.8" stroke="#eeeeee" stroke-width="1"/>
<rect x="827.01" y="216.0" width="2.5" height="2.4" fill="#cc1842" fill-opacity="1.00" stroke="#ffa0b4" stroke-opacity="0.98" stroke-width="1"/>
<line x1="832.30" y1="220.4" x2="832.30" y2="232.5" stroke="#eeeeee" stroke-width="1"/>
<rect x="831.05" y="226.4" width="2.5" height="5.3" fill="#cc1842" fill-opacity="1.00" stroke="#ffa0b4" stroke-opacity="0.98" stroke-width="1"/>
<line x1="836.34" y1="231.7" x2="836.34" y2="243.9" stroke="#eeeeee" stroke-width="1"/>
<rect x="835.09" y="232.3" width="2.5" height="5.9" fill="#239038" fill-opacity="1.00" stroke="#b6eeb6" stroke-opacity="0.98" stroke-width="1"/>
<line x1="840.38" y1="225.8" x2="840.38" y2="236.8" stroke="#eeeeee" stroke-width="1"/>
<rect x="839.13" y="229.3" width="2.5" height="2.4" fill="#239038" fill-opacity="1.00" stroke="#b6eeb6" stroke-opacity="0.98" stroke-width="1"/>
<line x1="844.42" y1="225.8" x2="844.42" y2="241.6" stroke="#eeeeee" stroke-width="1"/>
<rect x="843.17" y="229.3" width="2.5" height="11.9" fill="#cc1842" fill-opacity="1.00" stroke="#ffa0b4" stroke-opacity="0.98" stroke-width="1"/>
<line x1="848.46" y1="237.6" x2="848.46" y2="246.8" stroke="#eeeeee" stroke-width="1"/>
<rect x="847.21" y="241.8" width="2.5" height="2.4" fill="#239038" fill-opacity="1.00" stroke="#b6eeb6" stroke-opacity="0.98" stroke-width="1"/>
<line x1="852.50" y1="236.5" x2="852.50" y2="246.0" stroke="#eeeeee" stroke-width="1"/>
<rect x="851.25" y="243.2" width="2.5" height="2.4" fill="#cc1842" fill-opacity="1.00" stroke="#ffa0b4" stroke-opacity="0.98" stroke-width="1"/>
<line x1="856.54" y1="232.9" x2="856.54" y2="246.8" stroke="#eeeeee" stroke-width="1"/>
<rect x="855.29" y="236.5" width="2.5" height="10.1" fill="#cc1842" fill-opacity="1.00" stroke="#ffa0b4" stroke-opacity="0.98" stroke-width="1"/>
<line x1="860.58" y1="244.8" x2="860.58" y2="268.2" stroke="#eeeeee" stroke-width="1"/>
<rect x="859.33" y="247.1" width="2.5" height="16.0" fill="#cc1842" fill-opacity="1.00" stroke="#ffa0b4" stroke-opacity="0.98" stroke-width="1"/>
<line x1="864.62" y1="246.0" x2="864.62" y2="261.0" stroke="#eeeeee" stroke-width="1"/>
<rect x="863.37" y="253.7" width="2.5" height="6.5" fill="#239038" fill-opacity="1.00" stroke="#b6eeb6" stroke-opacity="0.98" stroke-width="1"/>
<line x1="868.66" y1="243.0" x2="868.66" y2="251.5" stroke="#eeeeee" stroke-width="1"/>
<rect x="867.41" y="245.6" width="2.5" height="2.4" fill="#cc1842" fill-opacity="1.00" stroke="#ffa0b4" stroke-opacity="0.98" stroke-width="1"/>
<line x1="872.70" y1="238.3" x2="872.70" y2="249.8" stroke="#eeeeee" stroke-width="1"/>
<rect x="871.45" y="241.3" width="2.5" height="2.4" fill="#239038" fill-opacity="1.00" stroke="#b6eeb6" stroke-opacity="0.98" stroke-width="1"/>
<line x1="876.74" y1="236.0" x2="876.74" y2="243.4" stroke="#eeeeee" stroke-width="1"/>
<line x1="874.94" y1="238.9" x2="878.54" y2="238.9" stroke="#f7dce2" stroke-width="1.3"/>
<line x1="880.78" y1="237.7" x2="880.78" y2="243.4" stroke="#eeeeee" stroke-width="1"/>
<line x1="878.98" y1="240.7" x2="882.58" y2="240.7" stroke="#f7dce2" stroke-width="1.3"/>
<line x1="884.82" y1="230.6" x2="884.82" y2="245.8" stroke="#eeeeee" stroke-width="1"/>
<rect x="883.57" y="236.0" width="2.5" height="9.5" fill="#cc1842" fill-opacity="1.00" stroke="#ffa0b4" stroke-opacity="0.98" stroke-width="1"/>
<line x1="888.86" y1="236.0" x2="888.86" y2="241.9" stroke="#eeeeee" stroke-width="1"/>
<rect x="887.61" y="239.5" width="2.5" height="1.8" fill="#b4d9bb" fill-opacity="0.80" stroke="#b6eeb6" stroke-opacity="0.18" stroke-width="1"/>
<line x1="892.90" y1="228.8" x2="892.90" y2="237.7" stroke="#eeeeee" stroke-width="1"/>
<rect x="891.65" y="231.8" width="2.5" height="5.3" fill="#b4d9bb" fill-opacity="0.80" stroke="#b6eeb6" stroke-opacity="0.18" stroke-width="1"/>
<line x1="896.94" y1="230.0" x2="896.94" y2="234.2" stroke="#eeeeee" stroke-width="1"/>
<line x1="895.14" y1="232.4" x2="898.74" y2="232.4" stroke="#fcf3f5" stroke-width="1.3"/>
<line x1="900.98" y1="217.6" x2="900.98" y2="230.4" stroke="#eeeeee" stroke-width="1"/>
<rect x="899.73" y="222.3" width="2.5" height="7.7" fill="#b4d9bb" fill-opacity="0.80" stroke="#b6eeb6" stroke-opacity="0.18" stroke-width="1"/>
<line x1="905.02" y1="213.4" x2="905.02" y2="238.0" stroke="#eeeeee" stroke-width="1"/>
<rect x="903.77" y="214.0" width="2.5" height="13.7" fill="#edb0be" fill-opacity="0.80" stroke="#ffa0b4" stroke-opacity="0.18" stroke-width="1"/>
<line x1="909.06" y1="215.8" x2="909.06" y2="241.1" stroke="#eeeeee" stroke-width="1"/>
<rect x="907.81" y="217.6" width="2.5" height="23.2" fill="#edb0be" fill-opacity="0.80" stroke="#ffa0b4" stroke-opacity="0.18" stroke-width="1"/>
<line x1="913.10" y1="254.4" x2="913.10" y2="270.4" stroke="#eeeeee" stroke-width="1"/>
<rect x="911.85" y="258.5" width="2.5" height="7.7" fill="#edb0be" fill-opacity="0.80" stroke="#ffa0b4" stroke-opacity="0.18" stroke-width="1"/>
<line x1="917.14" y1="247.2" x2="917.14" y2="270.0" stroke="#eeeeee" stroke-width="1"/>
<rect x="915.89" y="247.8" width="2.5" height="20.8" fill="#edb0be" fill-opacity="0.80" stroke="#ffa0b4" stroke-opacity="0.18" stroke-width="1"/>
<line x1="921.18" y1="237.1" x2="921.18" y2="257.7" stroke="#eeeeee" stroke-width="1"/>
<rect x="919.93" y="238.9" width="2.5" height="17.8" fill="#61af70" fill-opacity="0.91" stroke="#b6eeb6" stroke-opacity="0.64" stroke-width="1"/>
<line x1="925.22" y1="234.2" x2="925.22" y2="251.0" stroke="#eeeeee" stroke-width="1"/>
<rect x="923.97" y="235.4" width="2.5" height="7.1" fill="#239038" fill-opacity="1.00" stroke="#b6eeb6" stroke-opacity="0.98" stroke-width="1"/>
<line x1="929.26" y1="212.8" x2="929.26" y2="233.2" stroke="#eeeeee" stroke-width="1"/>
<rect x="928.01" y="214.0" width="2.5" height="18.4" fill="#239038" fill-opacity="1.00" stroke="#b6eeb6" stroke-opacity="0.98" stroke-width="1"/>
<line x1="933.30" y1="202.7" x2="933.30" y2="220.9" stroke="#eeeeee" stroke-width="1"/>
<rect x="932.05" y="205.1" width="2.5" height="10.7" fill="#239038" fill-opacity="1.00" stroke="#b6eeb6" stroke-opacity="0.98" stroke-width="1"/>
<line x1="937.34" y1="209.8" x2="937.34" y2="222.5" stroke="#eeeeee" stroke-width="1"/>
<line x1="935.54" y1="210.7" x2="939.14" y2="210.7" stroke="#f7dce2" stroke-width="1.3"/>
<line x1="941.38" y1="206.3" x2="941.38" y2="222.1" stroke="#eeeeee" stroke-width="1"/>
<rect x="940.13" y="209.8" width="2.5" height="4.7" fill="#239038" fill-opacity="1.00" stroke="#b6eeb6" stroke-opacity="0.98" stroke-width="1"/>
<line x1="945.42" y1="215.8" x2="945.42" y2="225.6" stroke="#eeeeee" stroke-width="1"/>
<rect x="944.17" y="219.7" width="2.5" height="2.4" fill="#cc1842" fill-opacity="1.00" stroke="#ffa0b4" stroke-opacity="0.98" stroke-width="1"/>
<line x1="949.46" y1="201.5" x2="949.46" y2="230.9" stroke="#eeeeee" stroke-width="1"/>
<rect x="948.21" y="208.1" width="2.5" height="20.8" fill="#239038" fill-opacity="1.00" stroke="#b6eeb6" stroke-opacity="0.98" stroke-width="1"/>
<line x1="953.50" y1="192.2" x2="953.50" y2="205.4" stroke="#eeeeee" stroke-width="1"/>
<rect x="952.25" y="192.8" width="2.5" height="9.9" fill="#239038" fill-opacity="1.00" stroke="#b6eeb6" stroke-opacity="0.98" stroke-width="1"/>
<line x1="957.54" y1="184.5" x2="957.54" y2="205.1" stroke="#eeeeee" stroke-width="1"/>
<rect x="956.29" y="189.2" width="2.5" height="13.5" fill="#cc1842" fill-opacity="1.00" stroke="#ffa0b4" stroke-opacity="0.98" stroke-width="1"/>
<line x1="961.58" y1="183.3" x2="961.58" y2="206.3" stroke="#eeeeee" stroke-width="1"/>
<rect x="960.33" y="189.2" width="2.5" height="13.5" fill="#239038" fill-opacity="1.00" stroke="#b6eeb6" stroke-opacity="0.98" stroke-width="1"/>
<line x1="965.62" y1="167.2" x2="965.62" y2="182.9" stroke="#eeeeee" stroke-width="1"/>
<rect x="964.37" y="173.8" width="2.5" height="8.3" fill="#239038" fill-opacity="1.00" stroke="#b6eeb6" stroke-opacity="0.98" stroke-width="1"/>
<line x1="969.66" y1="162.5" x2="969.66" y2="183.6" stroke="#eeeeee" stroke-width="1"/>
<rect x="968.41" y="166.1" width="2.5" height="12.5" fill="#239038" fill-opacity="1.00" stroke="#b6eeb6" stroke-opacity="0.98" stroke-width="1"/>
<line x1="973.70" y1="147.1" x2="973.70" y2="164.3" stroke="#eeeeee" stroke-width="1"/>
<rect x="972.45" y="155.4" width="2.5" height="4.7" fill="#239038" fill-opacity="1.00" stroke="#b6eeb6" stroke-opacity="0.98" stroke-width="1"/>
<line x1="977.74" y1="127.5" x2="977.74" y2="149.7" stroke="#eeeeee" stroke-width="1"/>
<line x1="975.94" y1="140.5" x2="979.54" y2="140.5" stroke="#f7dce2" stroke-width="1.3"/>
<line x1="981.78" y1="133.4" x2="981.78" y2="150.4" stroke="#eeeeee" stroke-width="1"/>
<rect x="980.53" y="135.2" width="2.5" height="14.2" fill="#239038" fill-opacity="1.00" stroke="#b6eeb6" stroke-opacity="0.98" stroke-width="1"/>
<line x1="985.82" y1="139.3" x2="985.82" y2="175.5" stroke="#eeeeee" stroke-width="1"/>
<rect x="984.57" y="144.1" width="2.5" height="14.2" fill="#239038" fill-opacity="1.00" stroke="#b6eeb6" stroke-opacity="0.98" stroke-width="1"/>
<line x1="989.86" y1="126.3" x2="989.86" y2="146.1" stroke="#eeeeee" stroke-width="1"/>
<rect x="988.61" y="129.2" width="2.5" height="8.3" fill="#239038" fill-opacity="1.00" stroke="#b6eeb6" stroke-opacity="0.98" stroke-width="1"/>
<line x1="993.90" y1="102.2" x2="993.90" y2="122.4" stroke="#eeeeee" stroke-width="1"/>
<rect x="992.65" y="109.4" width="2.5" height="3.6" fill="#edb0be" fill-opacity="0.80" stroke="#ffa0b4" stroke-opacity="0.18" stroke-width="1"/>
<line x1="997.94" y1="106.4" x2="997.94" y2="126.9" stroke="#eeeeee" stroke-width="1"/>
<rect x="996.69" y="114.7" width="2.5" height="7.1" fill="#edb0be" fill-opacity="0.80" stroke="#ffa0b4" stroke-opacity="0.18" stroke-width="1"/>
<line x1="1001.98" y1="103.4" x2="1001.98" y2="122.4" stroke="#eeeeee" stroke-width="1"/>
<rect x="1000.73" y="111.7" width="2.5" height="2.4" fill="#edb0be" fill-opacity="0.80" stroke="#ffa0b4" stroke-opacity="0.18" stroke-width="1"/>
<line x1="1006.02" y1="103.4" x2="1006.02" y2="121.2" stroke="#eeeeee" stroke-width="1"/>
<rect x="1004.77" y="108.8" width="2.5" height="12.5" fill="#b4d9bb" fill-opacity="0.80" stroke="#b6eeb6" stroke-opacity="0.18" stroke-width="1"/>
<line x1="1010.06" y1="103.4" x2="1010.06" y2="120.3" stroke="#eeeeee" stroke-width="1"/>
<rect x="1008.81" y="110.0" width="2.5" height="1.8" fill="#edb0be" fill-opacity="0.80" stroke="#ffa0b4" stroke-opacity="0.18" stroke-width="1"/>
<line x1="1014.10" y1="78.5" x2="1014.10" y2="109.1" stroke="#eeeeee" stroke-width="1"/>
<rect x="1012.85" y="80.9" width="2.5" height="27.9" fill="#b4d9bb" fill-opacity="0.80" stroke="#b6eeb6" stroke-opacity="0.18" stroke-width="1"/>
<line x1="1018.14" y1="55.5" x2="1018.14" y2="88.0" stroke="#eeeeee" stroke-width="1"/>
<rect x="1016.89" y="64.8" width="2.5" height="16.7" fill="#edb0be" fill-opacity="0.80" stroke="#ffa0b4" stroke-opacity="0.18" stroke-width="1"/>
<line x1="1022.18" y1="77.3" x2="1022.18" y2="91.3" stroke="#eeeeee" stroke-width="1"/>
<line x1="1020.38" y1="78.5" x2="1023.98" y2="78.5" stroke="#fcf3f5" stroke-width="1.3"/>
<line x1="1026.22" y1="76.7" x2="1026.22" y2="84.7" stroke="#eeeeee" stroke-width="1"/>
<rect x="1024.97" y="81.1" width="2.5" height="2.4" fill="#cc1842" fill-opacity="1.00" stroke="#ffa0b4" stroke-opacity="0.98" stroke-width="1"/>
<line x1="1030.26" y1="62.2" x2="1030.26" y2="87.0" stroke="#eeeeee" stroke-width="1"/>
<rect x="1029.01" y="76.1" width="2.5" height="7.1" fill="#239038" fill-opacity="1.00" stroke="#b6eeb6" stroke-opacity="0.98" stroke-width="1"/>
<line x1="1034.30" y1="57.3" x2="1034.30" y2="72.9" stroke="#eeeeee" stroke-width="1"/>
<rect x="1033.05" y="63.1" width="2.5" height="8.4" fill="#239038" fill-opacity="1.00" stroke="#b6eeb6" stroke-opacity="0.98" stroke-width="1"/>
<line x1="1038.34" y1="41.7" x2="1038.34" y2="60.9" stroke="#eeeeee" stroke-width="1"/>
<rect x="1037.09" y="42.2" width="2.5" height="15.5" fill="#239038" fill-opacity="1.00" stroke="#b6eeb6" stroke-opacity="0.98" stroke-width="1"/>
<line x1="1042.38" y1="43.9" x2="1042.38" y2="63.1" stroke="#eeeeee" stroke-width="1"/>
<rect x="1041.13" y="47.9" width="2.5" height="13.9" fill="#cc1842" fill-opacity="1.00" stroke="#ffa0b4" stroke-opacity="0.98" stroke-width="1"/>
<line x1="1046.42" y1="40.4" x2="1046.42" y2="62.6" stroke="#eeeeee" stroke-width="1"/>
<rect x="1045.17" y="49.3" width="2.5" height="10.2" fill="#239038" fill-opacity="1.00" stroke="#b6eeb6" stroke-opacity="0.98" stroke-width="1"/>
<line x1="1050.46" y1="33.3" x2="1050.46" y2="49.3" stroke="#eeeeee" stroke-width="1"/>
<rect x="1049.21" y="39.0" width="2.5" height="9.4" fill="#239038" fill-opacity="1.00" stroke="#b6eeb6" stroke-opacity="0.98" stroke-width="1"/>
</g>
<line x1="34.5" stroke-dashoffset="0.7" y1="34" x2="1076.5" y2="34" stroke="#22c55e" stroke-opacity="0.64" stroke-width="2" stroke-dasharray="7.9 3.255"/>
<line x1="34.5" stroke-dashoffset="0.7" y1="405" x2="1076.5" y2="405" stroke="#e42f2c" stroke-opacity="0.85" stroke-width="2" stroke-dasharray="7.9 3.255"/>
<g stroke="#8e8e8e" stroke-width="1" fill="none" shape-rendering="crispEdges">
<rect x="34.5" y="11.5" width="1042.0" height="583.0"/>
</g>
<line x1="34.5" y1="428.0" x2="1076.5" y2="428.0" stroke="#a6a6a6" stroke-width="1.6"/>
<line x1="1005.5" y1="28.4" x2="1039" y2="32.8" stroke="#22c55e" stroke-width="2.2"/>
<polygon points="1047,33.8 1036.9,36.4 1037.9,28.6" fill="#22c55e"/>
<rect x="914.6" y="13.2" width="89.6" height="17.8" rx="3" ry="3" fill="#0c0c0c" fill-opacity="0.9" stroke="#22c55e" stroke-width="1.5"/>
<text x="917.8" y="25.9" font-size="12.3" font-weight="bold" fill="#22c55e" textLength="82.6" lengthAdjust="spacingAndGlyphs">$67.01 52W</text>
<line x1="193.5" y1="411" x2="161" y2="406.5" stroke="#e42f2c" stroke-width="2.4"/>
<polygon points="152.8,405.4 162.9,402.4 161.8,410.6" fill="#e42f2c"/>
<rect x="195" y="408.4" width="90" height="17.6" rx="3" ry="3" fill="#141414" fill-opacity="0.92" stroke="#e42f2c" stroke-width="1.5"/>
<text x="198.4" y="421.2" font-size="12.3" font-weight="bold" fill="#e42f2c" textLength="83.4" lengthAdjust="spacingAndGlyphs">$45.44 52W</text>
<g stroke="#ececec" stroke-width="1" shape-rendering="crispEdges">
<line x1="1076.5" y1="69.2" x2="1081.5" y2="69.2"/>
<line x1="1076.5" y1="155.2" x2="1081.5" y2="155.2"/>
<line x1="1076.5" y1="241.2" x2="1081.5" y2="241.2"/>
<line x1="1076.5" y1="327.2" x2="1081.5" y2="327.2"/>
<line x1="1076.5" y1="413.2" x2="1081.5" y2="413.2"/>
<line x1="1076.5" y1="467.3" x2="1081.5" y2="467.3"/>
<line x1="1076.5" y1="510.9" x2="1081.5" y2="510.9"/>
<line x1="1076.5" y1="554.3" x2="1081.5" y2="554.3"/>
<line x1="40.4" y1="594.5" x2="40.4" y2="599.5"/>
<line x1="125.2" y1="594.5" x2="125.2" y2="599.5"/>
<line x1="206.5" y1="594.5" x2="206.5" y2="599.5"/>
<line x1="291.4" y1="594.5" x2="291.4" y2="599.5"/>
<line x1="375.4" y1="594.5" x2="375.4" y2="599.5"/>
<line x1="468.3" y1="594.5" x2="468.3" y2="599.5"/>
<line x1="553.5" y1="594.5" x2="553.5" y2="599.5"/>
<line x1="642.2" y1="594.5" x2="642.2" y2="599.5"/>
<line x1="735.1" y1="594.5" x2="735.1" y2="599.5"/>
<line x1="816.1" y1="594.5" x2="816.1" y2="599.5"/>
<line x1="900.4" y1="594.5" x2="900.4" y2="599.5"/>
<line x1="985.2" y1="594.5" x2="985.2" y2="599.5"/>
</g>
<g fill="#ececec" font-size="14" stroke="#ececec" stroke-width="0.15" opacity="0.999">
<text x="1086.3" y="74.6" textLength="29.3" lengthAdjust="spacingAndGlyphs">65.0</text>
<text x="1086.3" y="160.6" textLength="29.3" lengthAdjust="spacingAndGlyphs">60.0</text>
<text x="1086.3" y="246.6" textLength="29.3" lengthAdjust="spacingAndGlyphs">55.0</text>
<text x="1086.3" y="332.6" textLength="29.3" lengthAdjust="spacingAndGlyphs">50.0</text>
<text x="1086.3" y="418.6" textLength="29.3" lengthAdjust="spacingAndGlyphs">45.0</text>
<text x="1086.3" y="472.7" textLength="16.7" lengthAdjust="spacingAndGlyphs">15</text>
<text x="1086.3" y="516.3" textLength="16.7" lengthAdjust="spacingAndGlyphs">10</text>
<text x="1086.3" y="559.7" textLength="8.3" lengthAdjust="spacingAndGlyphs">5</text>
<text transform="translate(65.1,613.1) rotate(-45)" text-anchor="end" textLength="66.0" lengthAdjust="spacingAndGlyphs">Mar 2025</text>
<text transform="translate(232.1,613.1) rotate(-45)" text-anchor="end" textLength="67.8" lengthAdjust="spacingAndGlyphs">May 2025</text>
<text transform="translate(396.7,613.1) rotate(-45)" text-anchor="end" textLength="56.3" lengthAdjust="spacingAndGlyphs">Jul 2025</text>
<text transform="translate(578.2,613.1) rotate(-45)" text-anchor="end" textLength="66.4" lengthAdjust="spacingAndGlyphs">Sep 2025</text>
<text transform="translate(760.1,613.1) rotate(-45)" text-anchor="end" textLength="67.3" lengthAdjust="spacingAndGlyphs">Nov 2025</text>
<text transform="translate(923.4,613.1) rotate(-45)" text-anchor="end" textLength="63.1" lengthAdjust="spacingAndGlyphs">Jan 2026</text>
</g>
<g fill="#d6d6d6" font-size="14" stroke="#d6d6d6" stroke-width="0.12" opacity="0.999">
<text transform="translate(1133.2,223.8) rotate(-90)" text-anchor="middle" textLength="31.5" lengthAdjust="spacingAndGlyphs">Preis</text>
<text transform="translate(1119.4,513.5) rotate(-90)" text-anchor="middle" textLength="58.5" lengthAdjust="spacingAndGlyphs">Volumen</text>
<text transform="translate(1140.2,519.3) rotate(-90)" textLength="16.8" lengthAdjust="spacingAndGlyphs">10</text>
<text transform="translate(1134.9,502.4) rotate(-90)" font-size="9.4" textLength="6.2" lengthAdjust="spacingAndGlyphs">6</text>
</g>
</g></svg></body></html>
